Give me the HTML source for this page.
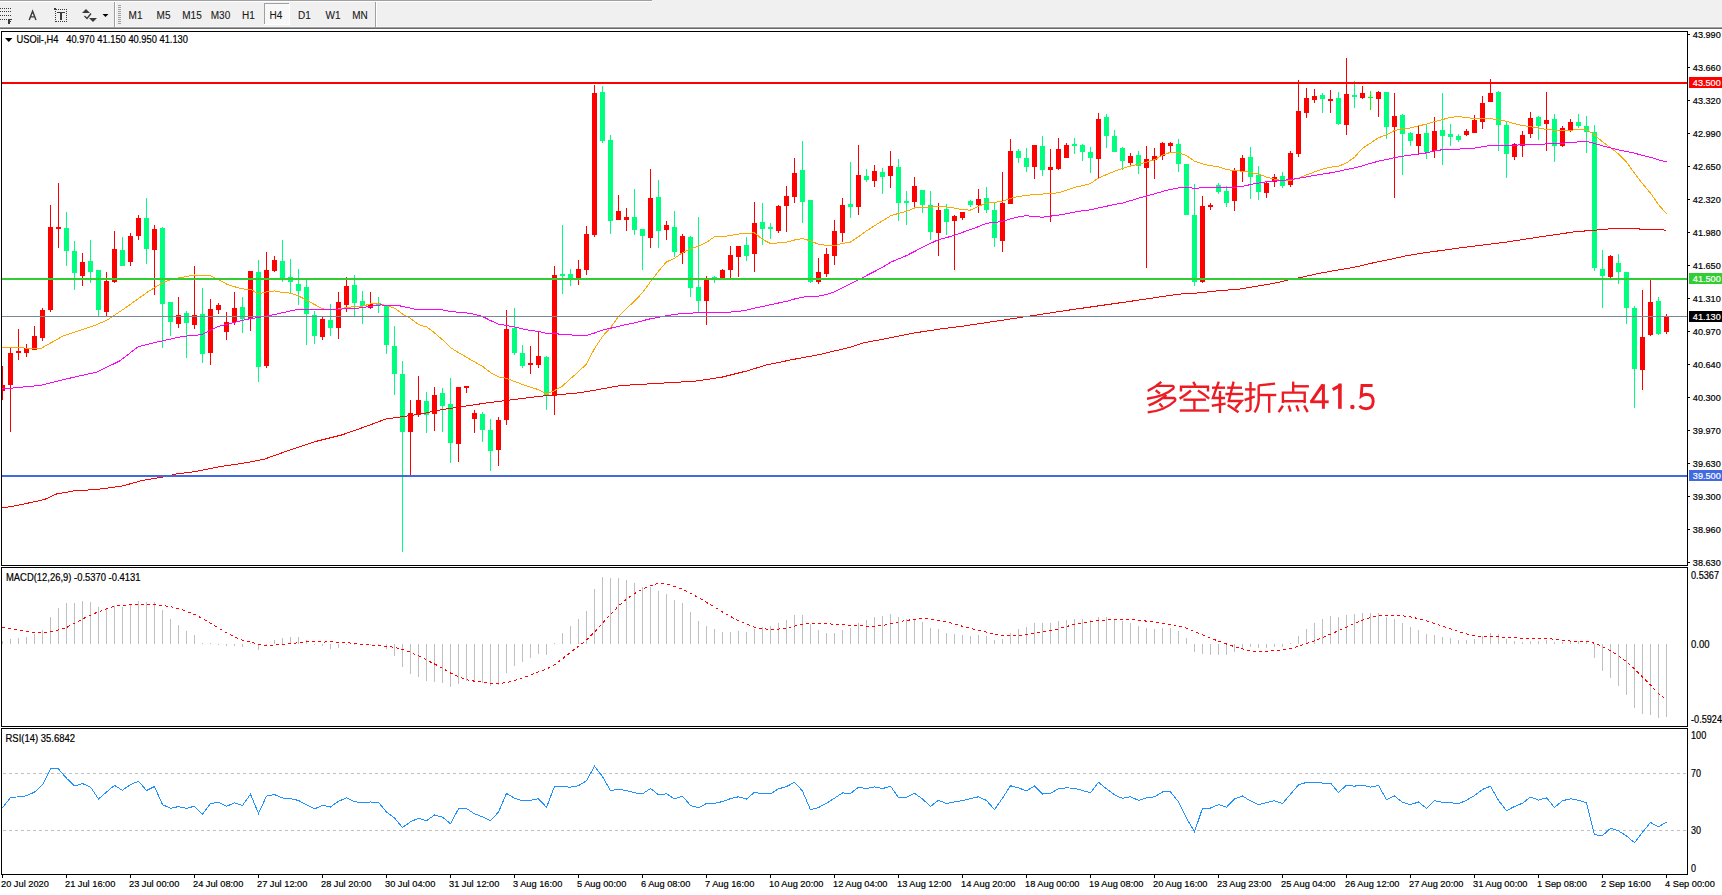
<!DOCTYPE html>
<html><head><meta charset="utf-8"><style>
html,body{margin:0;padding:0;background:#fff;}
body{width:1722px;height:895px;overflow:hidden;position:relative;font-family:"Liberation Sans",sans-serif;}
svg{position:absolute;left:0;top:0;display:block;}
text{font-family:"Liberation Sans",sans-serif;}
</style></head><body>
<svg width="1722" height="895" viewBox="0 0 1722 895" shape-rendering="crispEdges">
<rect x="0" y="0" width="1722" height="27" fill="#F0F0F0"/>
<rect x="0" y="0" width="652" height="1" fill="#a0a0a0"/>
<rect x="0" y="1" width="652" height="1" fill="#ffffff"/>
<rect x="0" y="26" width="1722" height="1" fill="#f6f6f6"/>
<rect x="0" y="27" width="1722" height="1" fill="#a0a0a0"/>
<rect x="0" y="28" width="1722" height="1" fill="#696969"/>
<rect x="0" y="29" width="1722" height="2" fill="#ffffff"/>
<rect x="0" y="8" width="1" height="1" fill="#3a3a3a"/>
<rect x="2" y="8" width="1" height="1" fill="#3a3a3a"/>
<rect x="4" y="8" width="1" height="1" fill="#3a3a3a"/>
<rect x="6" y="8" width="1" height="1" fill="#3a3a3a"/>
<rect x="8" y="8" width="1" height="1" fill="#3a3a3a"/>
<rect x="10" y="8" width="1" height="1" fill="#3a3a3a"/>
<rect x="0" y="11" width="1" height="1" fill="#3a3a3a"/>
<rect x="2" y="11" width="1" height="1" fill="#3a3a3a"/>
<rect x="4" y="11" width="1" height="1" fill="#3a3a3a"/>
<rect x="6" y="11" width="1" height="1" fill="#3a3a3a"/>
<rect x="8" y="11" width="1" height="1" fill="#3a3a3a"/>
<rect x="10" y="11" width="1" height="1" fill="#3a3a3a"/>
<rect x="0" y="15" width="1" height="1" fill="#3a3a3a"/>
<rect x="2" y="15" width="1" height="1" fill="#3a3a3a"/>
<rect x="4" y="15" width="1" height="1" fill="#3a3a3a"/>
<rect x="6" y="15" width="1" height="1" fill="#3a3a3a"/>
<rect x="8" y="15" width="1" height="1" fill="#3a3a3a"/>
<rect x="10" y="15" width="1" height="1" fill="#3a3a3a"/>
<rect x="0" y="19" width="1" height="1" fill="#3a3a3a"/>
<rect x="2" y="19" width="1" height="1" fill="#3a3a3a"/>
<rect x="4" y="19" width="1" height="1" fill="#3a3a3a"/>
<rect x="6" y="19" width="1" height="1" fill="#3a3a3a"/>
<rect x="8" y="19" width="2" height="5" fill="#3a3a3a"/>
<rect x="8" y="19" width="4" height="1" fill="#3a3a3a"/>
<rect x="8" y="21" width="3" height="1" fill="#3a3a3a"/>
<path d="M29.2 20 L32.6 11.2 L36 20 M30.6 16.9 L34.6 16.9" stroke="#3a3a3a" stroke-width="1.4" fill="none" shape-rendering="auto"/>
<rect x="56" y="9" width="1" height="1" fill="#3a3a3a"/>
<rect x="56" y="21" width="1" height="1" fill="#3a3a3a"/>
<rect x="58" y="9" width="1" height="1" fill="#3a3a3a"/>
<rect x="58" y="21" width="1" height="1" fill="#3a3a3a"/>
<rect x="60" y="9" width="1" height="1" fill="#3a3a3a"/>
<rect x="60" y="21" width="1" height="1" fill="#3a3a3a"/>
<rect x="62" y="9" width="1" height="1" fill="#3a3a3a"/>
<rect x="62" y="21" width="1" height="1" fill="#3a3a3a"/>
<rect x="64" y="9" width="1" height="1" fill="#3a3a3a"/>
<rect x="64" y="21" width="1" height="1" fill="#3a3a3a"/>
<rect x="66" y="9" width="1" height="1" fill="#3a3a3a"/>
<rect x="66" y="21" width="1" height="1" fill="#3a3a3a"/>
<rect x="55" y="11" width="1" height="1" fill="#3a3a3a"/>
<rect x="66" y="11" width="1" height="1" fill="#3a3a3a"/>
<rect x="55" y="13" width="1" height="1" fill="#3a3a3a"/>
<rect x="66" y="13" width="1" height="1" fill="#3a3a3a"/>
<rect x="55" y="15" width="1" height="1" fill="#3a3a3a"/>
<rect x="66" y="15" width="1" height="1" fill="#3a3a3a"/>
<rect x="55" y="17" width="1" height="1" fill="#3a3a3a"/>
<rect x="66" y="17" width="1" height="1" fill="#3a3a3a"/>
<rect x="55" y="19" width="1" height="1" fill="#3a3a3a"/>
<rect x="66" y="19" width="1" height="1" fill="#3a3a3a"/>
<rect x="55" y="21" width="1" height="1" fill="#3a3a3a"/>
<rect x="66" y="21" width="1" height="1" fill="#3a3a3a"/>
<rect x="54" y="8" width="2" height="2" fill="#3a3a3a"/>
<rect x="57" y="12" width="8" height="1" fill="#3a3a3a"/>
<rect x="60" y="12" width="2" height="8" fill="#3a3a3a"/>
<path d="M82 13 L86 9 L90 13 Z" fill="#3a3a3a" shape-rendering="auto"/>
<path d="M84.5 16 L87 18.5 L91 13.5" stroke="#3a3a3a" stroke-width="1.3" fill="none" shape-rendering="auto"/>
<path d="M89 18 L93 22 L97 18 Z" fill="#3a3a3a" shape-rendering="auto"/>
<path d="M102.5 14 L108.5 14 L105.5 17 Z" fill="#000" shape-rendering="auto"/>
<rect x="114" y="2" width="1" height="25" fill="#a0a0a0"/>
<rect x="115" y="2" width="1" height="25" fill="#ffffff"/>
<rect x="118" y="5" width="3" height="1" fill="#a0a0a0"/>
<rect x="118" y="7" width="3" height="1" fill="#a0a0a0"/>
<rect x="118" y="9" width="3" height="1" fill="#a0a0a0"/>
<rect x="118" y="11" width="3" height="1" fill="#a0a0a0"/>
<rect x="118" y="13" width="3" height="1" fill="#a0a0a0"/>
<rect x="118" y="15" width="3" height="1" fill="#a0a0a0"/>
<rect x="118" y="17" width="3" height="1" fill="#a0a0a0"/>
<rect x="118" y="19" width="3" height="1" fill="#a0a0a0"/>
<rect x="118" y="21" width="3" height="1" fill="#a0a0a0"/>
<rect x="118" y="23" width="3" height="1" fill="#a0a0a0"/>
<rect x="264" y="3" width="26" height="22" fill="#f8f8f8"/>
<rect x="264" y="3" width="25" height="1" fill="#a0a0a0"/>
<rect x="264" y="3" width="1" height="22" fill="#a0a0a0"/>
<rect x="264" y="24" width="26" height="1" fill="#ffffff"/>
<rect x="289" y="3" width="1" height="22" fill="#ffffff"/>
<text x="135.5" y="19" font-size="10" fill="#1a1a1a" text-anchor="middle" font-weight="normal" font-family="Liberation Sans" stroke="#1a1a1a" stroke-width="0.1">M1</text>
<text x="163.5" y="19" font-size="10" fill="#1a1a1a" text-anchor="middle" font-weight="normal" font-family="Liberation Sans" stroke="#1a1a1a" stroke-width="0.1">M5</text>
<text x="192" y="19" font-size="10" fill="#1a1a1a" text-anchor="middle" font-weight="normal" font-family="Liberation Sans" stroke="#1a1a1a" stroke-width="0.1">M15</text>
<text x="220.5" y="19" font-size="10" fill="#1a1a1a" text-anchor="middle" font-weight="normal" font-family="Liberation Sans" stroke="#1a1a1a" stroke-width="0.1">M30</text>
<text x="248.5" y="19" font-size="10" fill="#1a1a1a" text-anchor="middle" font-weight="normal" font-family="Liberation Sans" stroke="#1a1a1a" stroke-width="0.1">H1</text>
<text x="276" y="19" font-size="10" fill="#1a1a1a" text-anchor="middle" font-weight="normal" font-family="Liberation Sans" stroke="#1a1a1a" stroke-width="0.1">H4</text>
<text x="304.5" y="19" font-size="10" fill="#1a1a1a" text-anchor="middle" font-weight="normal" font-family="Liberation Sans" stroke="#1a1a1a" stroke-width="0.1">D1</text>
<text x="333" y="19" font-size="10" fill="#1a1a1a" text-anchor="middle" font-weight="normal" font-family="Liberation Sans" stroke="#1a1a1a" stroke-width="0.1">W1</text>
<text x="360" y="19" font-size="10" fill="#1a1a1a" text-anchor="middle" font-weight="normal" font-family="Liberation Sans" stroke="#1a1a1a" stroke-width="0.1">MN</text>
<rect x="375" y="2" width="1" height="25" fill="#a0a0a0"/>
<rect x="376" y="2" width="1" height="25" fill="#ffffff"/>
<rect x="1" y="31" width="1687" height="1" fill="#000"/>
<rect x="1" y="565" width="1687" height="1" fill="#000"/>
<rect x="1" y="31" width="1" height="535" fill="#000"/>
<rect x="1687" y="31" width="1" height="535" fill="#000"/>
<rect x="1" y="567" width="1687" height="1" fill="#000"/>
<rect x="1" y="726" width="1687" height="1" fill="#000"/>
<rect x="1" y="567" width="1" height="160" fill="#000"/>
<rect x="1687" y="567" width="1" height="160" fill="#000"/>
<rect x="1" y="728" width="1687" height="1" fill="#000"/>
<rect x="1" y="874" width="1687" height="1" fill="#000"/>
<rect x="1" y="728" width="1" height="147" fill="#000"/>
<rect x="1687" y="728" width="1" height="147" fill="#000"/>
<g>
<clipPath id="cm"><rect x="2" y="32" width="1685" height="533"/></clipPath>
<g clip-path="url(#cm)">
<rect x="2" y="366" width="1" height="34" fill="#FF0000"/>
<rect x="0" y="385" width="5" height="6" fill="#FF0000"/>
<rect x="10" y="348" width="1" height="84" fill="#FF0000"/>
<rect x="8" y="353" width="5" height="32" fill="#FF0000"/>
<rect x="18" y="329" width="1" height="31" fill="#FF0000"/>
<rect x="16" y="351" width="5" height="2" fill="#FF0000"/>
<rect x="26" y="344" width="1" height="13" fill="#FF0000"/>
<rect x="24" y="348" width="5" height="5" fill="#FF0000"/>
<rect x="34" y="326" width="1" height="24" fill="#FF0000"/>
<rect x="32" y="336" width="5" height="14" fill="#FF0000"/>
<rect x="42" y="308" width="1" height="33" fill="#FF0000"/>
<rect x="40" y="310" width="5" height="28" fill="#FF0000"/>
<rect x="50" y="205" width="1" height="107" fill="#FF0000"/>
<rect x="48" y="227" width="5" height="83" fill="#FF0000"/>
<rect x="58" y="183" width="1" height="65" fill="#FF0000"/>
<rect x="56" y="227" width="5" height="2" fill="#FF0000"/>
<rect x="66" y="212" width="1" height="54" fill="#00FF7F"/>
<rect x="64" y="228" width="5" height="23" fill="#00FF7F"/>
<rect x="74" y="241" width="1" height="49" fill="#00FF7F"/>
<rect x="72" y="251" width="5" height="22" fill="#00FF7F"/>
<rect x="82" y="253" width="1" height="33" fill="#FF0000"/>
<rect x="80" y="262" width="5" height="14" fill="#FF0000"/>
<rect x="90" y="240" width="1" height="43" fill="#00FF7F"/>
<rect x="88" y="261" width="5" height="11" fill="#00FF7F"/>
<rect x="98" y="270" width="1" height="47" fill="#00FF7F"/>
<rect x="96" y="270" width="5" height="40" fill="#00FF7F"/>
<rect x="106" y="272" width="1" height="45" fill="#FF0000"/>
<rect x="104" y="281" width="5" height="31" fill="#FF0000"/>
<rect x="114" y="231" width="1" height="52" fill="#FF0000"/>
<rect x="112" y="249" width="5" height="33" fill="#FF0000"/>
<rect x="122" y="237" width="1" height="29" fill="#00FF7F"/>
<rect x="120" y="250" width="5" height="16" fill="#00FF7F"/>
<rect x="130" y="233" width="1" height="33" fill="#FF0000"/>
<rect x="128" y="236" width="5" height="26" fill="#FF0000"/>
<rect x="138" y="215" width="1" height="25" fill="#FF0000"/>
<rect x="136" y="218" width="5" height="18" fill="#FF0000"/>
<rect x="146" y="198" width="1" height="66" fill="#00FF7F"/>
<rect x="144" y="218" width="5" height="31" fill="#00FF7F"/>
<rect x="154" y="225" width="1" height="70" fill="#FF0000"/>
<rect x="152" y="229" width="5" height="21" fill="#FF0000"/>
<rect x="162" y="227" width="1" height="121" fill="#00FF7F"/>
<rect x="160" y="228" width="5" height="76" fill="#00FF7F"/>
<rect x="170" y="302" width="1" height="34" fill="#00FF7F"/>
<rect x="168" y="302" width="5" height="20" fill="#00FF7F"/>
<rect x="178" y="297" width="1" height="31" fill="#FF0000"/>
<rect x="176" y="315" width="5" height="9" fill="#FF0000"/>
<rect x="186" y="311" width="1" height="47" fill="#00FF7F"/>
<rect x="184" y="313" width="5" height="10" fill="#00FF7F"/>
<rect x="194" y="266" width="1" height="63" fill="#FF0000"/>
<rect x="192" y="315" width="5" height="10" fill="#FF0000"/>
<rect x="202" y="288" width="1" height="75" fill="#00FF7F"/>
<rect x="200" y="314" width="5" height="40" fill="#00FF7F"/>
<rect x="210" y="299" width="1" height="66" fill="#FF0000"/>
<rect x="208" y="309" width="5" height="44" fill="#FF0000"/>
<rect x="218" y="303" width="1" height="11" fill="#FF0000"/>
<rect x="216" y="305" width="5" height="5" fill="#FF0000"/>
<rect x="226" y="312" width="1" height="28" fill="#FF0000"/>
<rect x="224" y="322" width="5" height="10" fill="#FF0000"/>
<rect x="234" y="292" width="1" height="33" fill="#FF0000"/>
<rect x="232" y="308" width="5" height="14" fill="#FF0000"/>
<rect x="242" y="297" width="1" height="36" fill="#00FF7F"/>
<rect x="240" y="307" width="5" height="12" fill="#00FF7F"/>
<rect x="250" y="271" width="1" height="60" fill="#FF0000"/>
<rect x="248" y="271" width="5" height="48" fill="#FF0000"/>
<rect x="258" y="260" width="1" height="122" fill="#00FF7F"/>
<rect x="256" y="272" width="5" height="95" fill="#00FF7F"/>
<rect x="266" y="252" width="1" height="116" fill="#FF0000"/>
<rect x="264" y="270" width="5" height="96" fill="#FF0000"/>
<rect x="274" y="256" width="1" height="16" fill="#FF0000"/>
<rect x="272" y="260" width="5" height="11" fill="#FF0000"/>
<rect x="282" y="240" width="1" height="42" fill="#00FF7F"/>
<rect x="280" y="261" width="5" height="17" fill="#00FF7F"/>
<rect x="290" y="259" width="1" height="34" fill="#00FF7F"/>
<rect x="288" y="277" width="5" height="5" fill="#00FF7F"/>
<rect x="298" y="269" width="1" height="36" fill="#00FF7F"/>
<rect x="296" y="284" width="5" height="7" fill="#00FF7F"/>
<rect x="306" y="280" width="1" height="65" fill="#00FF7F"/>
<rect x="304" y="287" width="5" height="27" fill="#00FF7F"/>
<rect x="314" y="311" width="1" height="33" fill="#00FF7F"/>
<rect x="312" y="315" width="5" height="21" fill="#00FF7F"/>
<rect x="322" y="317" width="1" height="23" fill="#FF0000"/>
<rect x="320" y="319" width="5" height="18" fill="#FF0000"/>
<rect x="330" y="304" width="1" height="32" fill="#00FF7F"/>
<rect x="328" y="320" width="5" height="8" fill="#00FF7F"/>
<rect x="338" y="292" width="1" height="47" fill="#FF0000"/>
<rect x="336" y="302" width="5" height="26" fill="#FF0000"/>
<rect x="346" y="277" width="1" height="35" fill="#FF0000"/>
<rect x="344" y="286" width="5" height="19" fill="#FF0000"/>
<rect x="354" y="275" width="1" height="41" fill="#00FF7F"/>
<rect x="352" y="285" width="5" height="18" fill="#00FF7F"/>
<rect x="362" y="291" width="1" height="33" fill="#00FF7F"/>
<rect x="360" y="301" width="5" height="5" fill="#00FF7F"/>
<rect x="370" y="292" width="1" height="17" fill="#FF0000"/>
<rect x="368" y="304" width="5" height="4" fill="#FF0000"/>
<rect x="378" y="297" width="1" height="16" fill="#00FF7F"/>
<rect x="376" y="303" width="5" height="3" fill="#00FF7F"/>
<rect x="386" y="305" width="1" height="49" fill="#00FF7F"/>
<rect x="384" y="306" width="5" height="39" fill="#00FF7F"/>
<rect x="394" y="326" width="1" height="69" fill="#00FF7F"/>
<rect x="392" y="346" width="5" height="28" fill="#00FF7F"/>
<rect x="402" y="361" width="1" height="191" fill="#00FF7F"/>
<rect x="400" y="374" width="5" height="58" fill="#00FF7F"/>
<rect x="410" y="400" width="1" height="75" fill="#FF0000"/>
<rect x="408" y="413" width="5" height="19" fill="#FF0000"/>
<rect x="418" y="376" width="1" height="41" fill="#FF0000"/>
<rect x="416" y="400" width="5" height="15" fill="#FF0000"/>
<rect x="426" y="392" width="1" height="41" fill="#00FF7F"/>
<rect x="424" y="401" width="5" height="14" fill="#00FF7F"/>
<rect x="434" y="387" width="1" height="44" fill="#FF0000"/>
<rect x="432" y="395" width="5" height="19" fill="#FF0000"/>
<rect x="442" y="388" width="1" height="44" fill="#00FF7F"/>
<rect x="440" y="393" width="5" height="13" fill="#00FF7F"/>
<rect x="450" y="378" width="1" height="85" fill="#00FF7F"/>
<rect x="448" y="404" width="5" height="39" fill="#00FF7F"/>
<rect x="458" y="387" width="1" height="75" fill="#FF0000"/>
<rect x="456" y="387" width="5" height="57" fill="#FF0000"/>
<rect x="466" y="386" width="1" height="7" fill="#FF0000"/>
<rect x="464" y="386" width="5" height="2" fill="#FF0000"/>
<rect x="474" y="410" width="1" height="23" fill="#FF0000"/>
<rect x="472" y="413" width="5" height="6" fill="#FF0000"/>
<rect x="482" y="412" width="1" height="30" fill="#00FF7F"/>
<rect x="480" y="414" width="5" height="16" fill="#00FF7F"/>
<rect x="490" y="419" width="1" height="52" fill="#00FF7F"/>
<rect x="488" y="430" width="5" height="21" fill="#00FF7F"/>
<rect x="498" y="417" width="1" height="49" fill="#FF0000"/>
<rect x="496" y="420" width="5" height="30" fill="#FF0000"/>
<rect x="506" y="310" width="1" height="115" fill="#FF0000"/>
<rect x="504" y="329" width="5" height="91" fill="#FF0000"/>
<rect x="514" y="308" width="1" height="47" fill="#00FF7F"/>
<rect x="512" y="328" width="5" height="25" fill="#00FF7F"/>
<rect x="522" y="345" width="1" height="23" fill="#00FF7F"/>
<rect x="520" y="353" width="5" height="13" fill="#00FF7F"/>
<rect x="530" y="346" width="1" height="28" fill="#FF0000"/>
<rect x="528" y="363" width="5" height="2" fill="#FF0000"/>
<rect x="538" y="331" width="1" height="37" fill="#FF0000"/>
<rect x="536" y="356" width="5" height="9" fill="#FF0000"/>
<rect x="546" y="356" width="1" height="54" fill="#00FF7F"/>
<rect x="544" y="357" width="5" height="39" fill="#00FF7F"/>
<rect x="554" y="266" width="1" height="149" fill="#FF0000"/>
<rect x="552" y="275" width="5" height="121" fill="#FF0000"/>
<rect x="562" y="225" width="1" height="69" fill="#00FF7F"/>
<rect x="560" y="274" width="5" height="2" fill="#00FF7F"/>
<rect x="570" y="269" width="1" height="17" fill="#00FF7F"/>
<rect x="568" y="274" width="5" height="4" fill="#00FF7F"/>
<rect x="578" y="260" width="1" height="25" fill="#FF0000"/>
<rect x="576" y="269" width="5" height="9" fill="#FF0000"/>
<rect x="586" y="226" width="1" height="49" fill="#FF0000"/>
<rect x="584" y="234" width="5" height="36" fill="#FF0000"/>
<rect x="594" y="85" width="1" height="152" fill="#FF0000"/>
<rect x="592" y="93" width="5" height="142" fill="#FF0000"/>
<rect x="602" y="86" width="1" height="57" fill="#00FF7F"/>
<rect x="600" y="92" width="5" height="49" fill="#00FF7F"/>
<rect x="610" y="135" width="1" height="99" fill="#00FF7F"/>
<rect x="608" y="140" width="5" height="81" fill="#00FF7F"/>
<rect x="618" y="195" width="1" height="25" fill="#FF0000"/>
<rect x="616" y="211" width="5" height="9" fill="#FF0000"/>
<rect x="626" y="208" width="1" height="23" fill="#FF0000"/>
<rect x="624" y="217" width="5" height="3" fill="#FF0000"/>
<rect x="634" y="189" width="1" height="46" fill="#00FF7F"/>
<rect x="632" y="217" width="5" height="13" fill="#00FF7F"/>
<rect x="642" y="229" width="1" height="41" fill="#00FF7F"/>
<rect x="640" y="229" width="5" height="7" fill="#00FF7F"/>
<rect x="650" y="169" width="1" height="79" fill="#FF0000"/>
<rect x="648" y="198" width="5" height="40" fill="#FF0000"/>
<rect x="658" y="180" width="1" height="68" fill="#00FF7F"/>
<rect x="656" y="197" width="5" height="34" fill="#00FF7F"/>
<rect x="666" y="221" width="1" height="19" fill="#FF0000"/>
<rect x="664" y="225" width="5" height="5" fill="#FF0000"/>
<rect x="674" y="211" width="1" height="46" fill="#00FF7F"/>
<rect x="672" y="227" width="5" height="25" fill="#00FF7F"/>
<rect x="682" y="234" width="1" height="30" fill="#FF0000"/>
<rect x="680" y="236" width="5" height="17" fill="#FF0000"/>
<rect x="690" y="236" width="1" height="61" fill="#00FF7F"/>
<rect x="688" y="237" width="5" height="51" fill="#00FF7F"/>
<rect x="698" y="217" width="1" height="95" fill="#00FF7F"/>
<rect x="696" y="287" width="5" height="14" fill="#00FF7F"/>
<rect x="706" y="276" width="1" height="49" fill="#FF0000"/>
<rect x="704" y="280" width="5" height="21" fill="#FF0000"/>
<rect x="714" y="276" width="1" height="7" fill="#00FF7F"/>
<rect x="712" y="277" width="5" height="2" fill="#00FF7F"/>
<rect x="722" y="269" width="1" height="9" fill="#FF0000"/>
<rect x="720" y="270" width="5" height="8" fill="#FF0000"/>
<rect x="730" y="246" width="1" height="32" fill="#FF0000"/>
<rect x="728" y="255" width="5" height="15" fill="#FF0000"/>
<rect x="738" y="246" width="1" height="31" fill="#FF0000"/>
<rect x="736" y="246" width="5" height="11" fill="#FF0000"/>
<rect x="746" y="237" width="1" height="24" fill="#00FF7F"/>
<rect x="744" y="245" width="5" height="11" fill="#00FF7F"/>
<rect x="754" y="202" width="1" height="70" fill="#FF0000"/>
<rect x="752" y="223" width="5" height="31" fill="#FF0000"/>
<rect x="762" y="203" width="1" height="42" fill="#00FF7F"/>
<rect x="760" y="222" width="5" height="7" fill="#00FF7F"/>
<rect x="770" y="223" width="1" height="16" fill="#00FF7F"/>
<rect x="768" y="227" width="5" height="2" fill="#00FF7F"/>
<rect x="778" y="205" width="1" height="28" fill="#FF0000"/>
<rect x="776" y="206" width="5" height="25" fill="#FF0000"/>
<rect x="786" y="186" width="1" height="46" fill="#FF0000"/>
<rect x="784" y="196" width="5" height="10" fill="#FF0000"/>
<rect x="794" y="158" width="1" height="45" fill="#FF0000"/>
<rect x="792" y="173" width="5" height="24" fill="#FF0000"/>
<rect x="802" y="141" width="1" height="82" fill="#00FF7F"/>
<rect x="800" y="170" width="5" height="32" fill="#00FF7F"/>
<rect x="810" y="200" width="1" height="83" fill="#00FF7F"/>
<rect x="808" y="200" width="5" height="82" fill="#00FF7F"/>
<rect x="818" y="258" width="1" height="26" fill="#FF0000"/>
<rect x="816" y="272" width="5" height="10" fill="#FF0000"/>
<rect x="826" y="248" width="1" height="29" fill="#FF0000"/>
<rect x="824" y="254" width="5" height="20" fill="#FF0000"/>
<rect x="834" y="220" width="1" height="45" fill="#FF0000"/>
<rect x="832" y="231" width="5" height="25" fill="#FF0000"/>
<rect x="842" y="198" width="1" height="44" fill="#FF0000"/>
<rect x="840" y="205" width="5" height="28" fill="#FF0000"/>
<rect x="850" y="162" width="1" height="56" fill="#00FF7F"/>
<rect x="848" y="204" width="5" height="3" fill="#00FF7F"/>
<rect x="858" y="145" width="1" height="70" fill="#FF0000"/>
<rect x="856" y="175" width="5" height="32" fill="#FF0000"/>
<rect x="866" y="169" width="1" height="13" fill="#00FF7F"/>
<rect x="864" y="176" width="5" height="4" fill="#00FF7F"/>
<rect x="874" y="165" width="1" height="22" fill="#FF0000"/>
<rect x="872" y="171" width="5" height="10" fill="#FF0000"/>
<rect x="882" y="168" width="1" height="26" fill="#00FF7F"/>
<rect x="880" y="172" width="5" height="5" fill="#00FF7F"/>
<rect x="890" y="151" width="1" height="37" fill="#FF0000"/>
<rect x="888" y="166" width="5" height="10" fill="#FF0000"/>
<rect x="898" y="159" width="1" height="62" fill="#00FF7F"/>
<rect x="896" y="167" width="5" height="36" fill="#00FF7F"/>
<rect x="906" y="191" width="1" height="34" fill="#00FF7F"/>
<rect x="904" y="201" width="5" height="2" fill="#00FF7F"/>
<rect x="914" y="177" width="1" height="32" fill="#FF0000"/>
<rect x="912" y="186" width="5" height="16" fill="#FF0000"/>
<rect x="922" y="190" width="1" height="23" fill="#00FF7F"/>
<rect x="920" y="190" width="5" height="15" fill="#00FF7F"/>
<rect x="930" y="191" width="1" height="49" fill="#00FF7F"/>
<rect x="928" y="205" width="5" height="27" fill="#00FF7F"/>
<rect x="938" y="203" width="1" height="53" fill="#FF0000"/>
<rect x="936" y="210" width="5" height="23" fill="#FF0000"/>
<rect x="946" y="204" width="1" height="31" fill="#00FF7F"/>
<rect x="944" y="209" width="5" height="13" fill="#00FF7F"/>
<rect x="954" y="215" width="1" height="55" fill="#FF0000"/>
<rect x="952" y="216" width="5" height="5" fill="#FF0000"/>
<rect x="962" y="212" width="1" height="8" fill="#FF0000"/>
<rect x="960" y="212" width="5" height="6" fill="#FF0000"/>
<rect x="970" y="200" width="1" height="7" fill="#00FF7F"/>
<rect x="968" y="201" width="5" height="4" fill="#00FF7F"/>
<rect x="978" y="189" width="1" height="24" fill="#FF0000"/>
<rect x="976" y="199" width="5" height="6" fill="#FF0000"/>
<rect x="986" y="187" width="1" height="26" fill="#00FF7F"/>
<rect x="984" y="198" width="5" height="12" fill="#00FF7F"/>
<rect x="994" y="203" width="1" height="44" fill="#00FF7F"/>
<rect x="992" y="210" width="5" height="28" fill="#00FF7F"/>
<rect x="1002" y="172" width="1" height="80" fill="#FF0000"/>
<rect x="1000" y="203" width="5" height="38" fill="#FF0000"/>
<rect x="1010" y="139" width="1" height="65" fill="#FF0000"/>
<rect x="1008" y="151" width="5" height="53" fill="#FF0000"/>
<rect x="1018" y="149" width="1" height="14" fill="#00FF7F"/>
<rect x="1016" y="151" width="5" height="7" fill="#00FF7F"/>
<rect x="1026" y="148" width="1" height="24" fill="#00FF7F"/>
<rect x="1024" y="158" width="5" height="9" fill="#00FF7F"/>
<rect x="1034" y="145" width="1" height="34" fill="#FF0000"/>
<rect x="1032" y="145" width="5" height="22" fill="#FF0000"/>
<rect x="1042" y="136" width="1" height="40" fill="#00FF7F"/>
<rect x="1040" y="146" width="5" height="24" fill="#00FF7F"/>
<rect x="1050" y="149" width="1" height="73" fill="#FF0000"/>
<rect x="1048" y="167" width="5" height="3" fill="#FF0000"/>
<rect x="1058" y="138" width="1" height="32" fill="#FF0000"/>
<rect x="1056" y="149" width="5" height="20" fill="#FF0000"/>
<rect x="1066" y="143" width="1" height="15" fill="#FF0000"/>
<rect x="1064" y="145" width="5" height="13" fill="#FF0000"/>
<rect x="1074" y="138" width="1" height="16" fill="#00FF7F"/>
<rect x="1072" y="144" width="5" height="2" fill="#00FF7F"/>
<rect x="1082" y="144" width="1" height="17" fill="#00FF7F"/>
<rect x="1080" y="145" width="5" height="7" fill="#00FF7F"/>
<rect x="1090" y="147" width="1" height="26" fill="#00FF7F"/>
<rect x="1088" y="152" width="5" height="6" fill="#00FF7F"/>
<rect x="1098" y="113" width="1" height="65" fill="#FF0000"/>
<rect x="1096" y="119" width="5" height="40" fill="#FF0000"/>
<rect x="1106" y="114" width="1" height="34" fill="#00FF7F"/>
<rect x="1104" y="117" width="5" height="19" fill="#00FF7F"/>
<rect x="1114" y="130" width="1" height="22" fill="#00FF7F"/>
<rect x="1112" y="136" width="5" height="16" fill="#00FF7F"/>
<rect x="1122" y="147" width="1" height="23" fill="#00FF7F"/>
<rect x="1120" y="148" width="5" height="13" fill="#00FF7F"/>
<rect x="1130" y="153" width="1" height="14" fill="#FF0000"/>
<rect x="1128" y="156" width="5" height="7" fill="#FF0000"/>
<rect x="1138" y="151" width="1" height="23" fill="#00FF7F"/>
<rect x="1136" y="155" width="5" height="11" fill="#00FF7F"/>
<rect x="1146" y="146" width="1" height="122" fill="#FF0000"/>
<rect x="1144" y="159" width="5" height="9" fill="#FF0000"/>
<rect x="1154" y="148" width="1" height="31" fill="#FF0000"/>
<rect x="1152" y="156" width="5" height="4" fill="#FF0000"/>
<rect x="1162" y="142" width="1" height="18" fill="#FF0000"/>
<rect x="1160" y="143" width="5" height="13" fill="#FF0000"/>
<rect x="1170" y="142" width="1" height="10" fill="#FF0000"/>
<rect x="1168" y="143" width="5" height="3" fill="#FF0000"/>
<rect x="1178" y="139" width="1" height="33" fill="#00FF7F"/>
<rect x="1176" y="144" width="5" height="20" fill="#00FF7F"/>
<rect x="1186" y="164" width="1" height="51" fill="#00FF7F"/>
<rect x="1184" y="164" width="5" height="51" fill="#00FF7F"/>
<rect x="1194" y="184" width="1" height="102" fill="#00FF7F"/>
<rect x="1192" y="215" width="5" height="67" fill="#00FF7F"/>
<rect x="1202" y="196" width="1" height="87" fill="#FF0000"/>
<rect x="1200" y="206" width="5" height="76" fill="#FF0000"/>
<rect x="1210" y="203" width="1" height="7" fill="#FF0000"/>
<rect x="1208" y="205" width="5" height="2" fill="#FF0000"/>
<rect x="1218" y="183" width="1" height="11" fill="#00FF7F"/>
<rect x="1216" y="185" width="5" height="7" fill="#00FF7F"/>
<rect x="1226" y="186" width="1" height="21" fill="#00FF7F"/>
<rect x="1224" y="191" width="5" height="12" fill="#00FF7F"/>
<rect x="1234" y="168" width="1" height="43" fill="#FF0000"/>
<rect x="1232" y="171" width="5" height="30" fill="#FF0000"/>
<rect x="1242" y="155" width="1" height="27" fill="#FF0000"/>
<rect x="1240" y="158" width="5" height="14" fill="#FF0000"/>
<rect x="1250" y="147" width="1" height="52" fill="#00FF7F"/>
<rect x="1248" y="157" width="5" height="20" fill="#00FF7F"/>
<rect x="1258" y="166" width="1" height="34" fill="#00FF7F"/>
<rect x="1256" y="175" width="5" height="17" fill="#00FF7F"/>
<rect x="1266" y="181" width="1" height="17" fill="#FF0000"/>
<rect x="1264" y="183" width="5" height="10" fill="#FF0000"/>
<rect x="1274" y="174" width="1" height="13" fill="#FF0000"/>
<rect x="1272" y="177" width="5" height="5" fill="#FF0000"/>
<rect x="1282" y="172" width="1" height="16" fill="#00FF7F"/>
<rect x="1280" y="176" width="5" height="10" fill="#00FF7F"/>
<rect x="1290" y="151" width="1" height="36" fill="#FF0000"/>
<rect x="1288" y="153" width="5" height="32" fill="#FF0000"/>
<rect x="1298" y="80" width="1" height="77" fill="#FF0000"/>
<rect x="1296" y="111" width="5" height="43" fill="#FF0000"/>
<rect x="1306" y="88" width="1" height="30" fill="#FF0000"/>
<rect x="1304" y="98" width="5" height="15" fill="#FF0000"/>
<rect x="1314" y="89" width="1" height="14" fill="#FF0000"/>
<rect x="1312" y="96" width="5" height="4" fill="#FF0000"/>
<rect x="1322" y="93" width="1" height="20" fill="#00FF7F"/>
<rect x="1320" y="95" width="5" height="4" fill="#00FF7F"/>
<rect x="1330" y="90" width="1" height="23" fill="#FF0000"/>
<rect x="1328" y="99" width="5" height="2" fill="#FF0000"/>
<rect x="1338" y="92" width="1" height="33" fill="#00FF7F"/>
<rect x="1336" y="98" width="5" height="26" fill="#00FF7F"/>
<rect x="1346" y="58" width="1" height="77" fill="#FF0000"/>
<rect x="1344" y="94" width="5" height="31" fill="#FF0000"/>
<rect x="1354" y="81" width="1" height="27" fill="#00FF7F"/>
<rect x="1352" y="95" width="5" height="2" fill="#00FF7F"/>
<rect x="1362" y="86" width="1" height="13" fill="#FF0000"/>
<rect x="1360" y="93" width="5" height="5" fill="#FF0000"/>
<rect x="1370" y="91" width="1" height="19" fill="#00FF00"/>
<rect x="1368" y="97" width="5" height="1" fill="#00FF00"/>
<rect x="1378" y="91" width="1" height="26" fill="#FF0000"/>
<rect x="1376" y="92" width="5" height="7" fill="#FF0000"/>
<rect x="1386" y="92" width="1" height="47" fill="#00FF7F"/>
<rect x="1384" y="92" width="5" height="35" fill="#00FF7F"/>
<rect x="1394" y="93" width="1" height="105" fill="#FF0000"/>
<rect x="1392" y="116" width="5" height="11" fill="#FF0000"/>
<rect x="1402" y="114" width="1" height="61" fill="#00FF7F"/>
<rect x="1400" y="115" width="5" height="19" fill="#00FF7F"/>
<rect x="1410" y="132" width="1" height="14" fill="#00FF7F"/>
<rect x="1408" y="133" width="5" height="8" fill="#00FF7F"/>
<rect x="1418" y="126" width="1" height="29" fill="#FF0000"/>
<rect x="1416" y="134" width="5" height="12" fill="#FF0000"/>
<rect x="1426" y="124" width="1" height="35" fill="#00FF7F"/>
<rect x="1424" y="133" width="5" height="19" fill="#00FF7F"/>
<rect x="1434" y="117" width="1" height="41" fill="#FF0000"/>
<rect x="1432" y="131" width="5" height="20" fill="#FF0000"/>
<rect x="1442" y="93" width="1" height="72" fill="#00FF7F"/>
<rect x="1440" y="130" width="5" height="6" fill="#00FF7F"/>
<rect x="1450" y="124" width="1" height="22" fill="#00FF7F"/>
<rect x="1448" y="134" width="5" height="3" fill="#00FF7F"/>
<rect x="1458" y="134" width="1" height="8" fill="#00FF7F"/>
<rect x="1456" y="136" width="5" height="4" fill="#00FF7F"/>
<rect x="1466" y="129" width="1" height="7" fill="#FF0000"/>
<rect x="1464" y="131" width="5" height="4" fill="#FF0000"/>
<rect x="1474" y="115" width="1" height="18" fill="#FF0000"/>
<rect x="1472" y="120" width="5" height="13" fill="#FF0000"/>
<rect x="1482" y="96" width="1" height="33" fill="#FF0000"/>
<rect x="1480" y="103" width="5" height="19" fill="#FF0000"/>
<rect x="1490" y="79" width="1" height="23" fill="#FF0000"/>
<rect x="1488" y="93" width="5" height="9" fill="#FF0000"/>
<rect x="1498" y="91" width="1" height="60" fill="#00FF7F"/>
<rect x="1496" y="92" width="5" height="33" fill="#00FF7F"/>
<rect x="1506" y="122" width="1" height="56" fill="#00FF7F"/>
<rect x="1504" y="125" width="5" height="29" fill="#00FF7F"/>
<rect x="1514" y="143" width="1" height="17" fill="#FF0000"/>
<rect x="1512" y="144" width="5" height="13" fill="#FF0000"/>
<rect x="1522" y="131" width="1" height="26" fill="#FF0000"/>
<rect x="1520" y="135" width="5" height="11" fill="#FF0000"/>
<rect x="1530" y="112" width="1" height="26" fill="#FF0000"/>
<rect x="1528" y="118" width="5" height="16" fill="#FF0000"/>
<rect x="1538" y="116" width="1" height="24" fill="#00FF7F"/>
<rect x="1536" y="117" width="5" height="9" fill="#00FF7F"/>
<rect x="1546" y="92" width="1" height="59" fill="#FF0000"/>
<rect x="1544" y="120" width="5" height="4" fill="#FF0000"/>
<rect x="1554" y="114" width="1" height="48" fill="#00FF7F"/>
<rect x="1552" y="119" width="5" height="27" fill="#00FF7F"/>
<rect x="1562" y="126" width="1" height="21" fill="#FF0000"/>
<rect x="1560" y="128" width="5" height="18" fill="#FF0000"/>
<rect x="1570" y="119" width="1" height="13" fill="#FF0000"/>
<rect x="1568" y="122" width="5" height="8" fill="#FF0000"/>
<rect x="1578" y="114" width="1" height="14" fill="#00FF7F"/>
<rect x="1576" y="122" width="5" height="4" fill="#00FF7F"/>
<rect x="1586" y="116" width="1" height="37" fill="#00FF7F"/>
<rect x="1584" y="126" width="5" height="6" fill="#00FF7F"/>
<rect x="1594" y="125" width="1" height="146" fill="#00FF7F"/>
<rect x="1592" y="132" width="5" height="136" fill="#00FF7F"/>
<rect x="1602" y="250" width="1" height="58" fill="#00FF7F"/>
<rect x="1600" y="269" width="5" height="7" fill="#00FF7F"/>
<rect x="1610" y="255" width="1" height="23" fill="#FF0000"/>
<rect x="1608" y="256" width="5" height="21" fill="#FF0000"/>
<rect x="1618" y="254" width="1" height="30" fill="#00FF7F"/>
<rect x="1616" y="263" width="5" height="9" fill="#00FF7F"/>
<rect x="1626" y="272" width="1" height="52" fill="#00FF7F"/>
<rect x="1624" y="272" width="5" height="36" fill="#00FF7F"/>
<rect x="1634" y="306" width="1" height="102" fill="#00FF7F"/>
<rect x="1632" y="308" width="5" height="61" fill="#00FF7F"/>
<rect x="1642" y="290" width="1" height="100" fill="#FF0000"/>
<rect x="1640" y="337" width="5" height="33" fill="#FF0000"/>
<rect x="1650" y="280" width="1" height="56" fill="#FF0000"/>
<rect x="1648" y="302" width="5" height="33" fill="#FF0000"/>
<rect x="1658" y="297" width="1" height="38" fill="#00FF7F"/>
<rect x="1656" y="301" width="5" height="33" fill="#00FF7F"/>
<rect x="1666" y="314" width="1" height="20" fill="#FF0000"/>
<rect x="1664" y="316" width="5" height="16" fill="#FF0000"/>
<polyline points="2.5,347.50 41.2,348.40 63.1,335.90 94.4,325.60 106.9,320.20 125.7,307.70 147.6,292.00 162.5,282.69 170.5,279.69 178.5,277.88 186.5,276.55 194.5,275.00 202.5,275.83 210.5,275.79 218.5,279.50 226.5,284.02 234.5,286.74 242.5,288.93 250.5,289.36 258.5,293.88 266.5,291.98 274.5,290.98 282.5,292.36 290.5,293.17 298.5,295.79 306.5,300.33 314.5,304.48 322.5,308.76 330.5,309.90 338.5,308.95 346.5,307.57 354.5,306.62 362.5,306.19 370.5,303.83 378.5,303.67 386.5,305.57 394.5,308.05 402.5,313.98 410.5,318.45 418.5,324.60 426.5,326.88 434.5,332.83 442.5,339.79 450.5,347.64 458.5,352.64 466.5,357.16 474.5,361.88 482.5,366.34 490.5,372.60 498.5,376.99 506.5,378.27 514.5,381.46 522.5,384.46 530.5,387.18 538.5,389.65 546.5,393.99 554.5,390.65 562.5,385.99 570.5,378.63 578.5,371.77 586.5,363.88 594.5,348.53 602.5,336.45 610.5,327.66 618.5,316.60 626.5,308.50 634.5,301.09 642.5,292.68 650.5,281.64 658.5,271.19 666.5,261.90 674.5,258.25 682.5,252.65 690.5,248.96 698.5,246.02 706.5,242.38 714.5,236.78 722.5,236.52 730.5,235.54 738.5,234.03 746.5,233.41 754.5,232.86 762.5,239.38 770.5,243.57 778.5,242.85 786.5,242.13 794.5,240.00 802.5,238.64 810.5,240.80 818.5,244.32 826.5,245.40 834.5,245.68 842.5,243.42 850.5,242.07 858.5,236.67 866.5,230.89 874.5,225.73 882.5,220.86 890.5,215.92 898.5,213.40 906.5,211.32 914.5,208.00 922.5,207.14 930.5,207.27 938.5,206.33 946.5,207.08 954.5,208.04 962.5,209.90 970.5,210.06 978.5,206.13 986.5,203.16 994.5,202.43 1002.5,201.10 1010.5,198.53 1018.5,196.17 1026.5,195.77 1034.5,194.11 1042.5,194.06 1050.5,193.58 1058.5,192.80 1066.5,190.05 1074.5,187.38 1082.5,185.73 1090.5,183.48 1098.5,178.10 1106.5,174.58 1114.5,171.22 1122.5,168.64 1130.5,165.99 1138.5,164.14 1146.5,162.23 1154.5,159.69 1162.5,155.13 1170.5,152.28 1178.5,152.91 1186.5,155.65 1194.5,161.12 1202.5,164.00 1210.5,165.67 1218.5,166.86 1226.5,169.42 1234.5,170.65 1242.5,171.21 1250.5,172.40 1258.5,174.04 1266.5,177.09 1274.5,179.07 1282.5,180.73 1290.5,180.31 1298.5,178.16 1306.5,174.92 1314.5,171.93 1322.5,169.21 1330.5,167.14 1338.5,166.25 1346.5,162.90 1354.5,157.28 1362.5,148.27 1370.5,143.13 1378.5,137.74 1386.5,134.67 1394.5,130.54 1402.5,128.80 1410.5,127.98 1418.5,125.95 1426.5,124.06 1434.5,121.57 1442.5,119.62 1450.5,117.25 1458.5,116.64 1466.5,117.60 1474.5,118.62 1482.5,118.93 1490.5,118.63 1498.5,119.87 1506.5,121.32 1514.5,123.69 1522.5,125.51 1530.5,126.72 1538.5,128.07 1546.5,129.40 1554.5,130.27 1562.5,130.81 1570.5,130.22 1578.5,129.50 1586.5,129.41 1594.5,134.95 1602.5,141.85 1610.5,147.55 1618.5,153.98 1626.5,161.97 1634.5,173.29 1642.5,183.62 1650.5,193.12 1658.5,204.61 1666.5,213.70" fill="none" stroke="#FFA500" stroke-width="1" />
<polyline points="2.5,389.00 41.2,385.30 63.1,379.70 97.5,371.90 119.5,361.00 138.2,346.80 157.0,342.10 182.0,336.50 201.5,334.70 218.5,326.40 246.5,319.40 271.5,315.20 296.5,309.60 330.2,309.60 358.1,308.20 380.5,304.90 400.5,306.00 415.1,309.20 434.5,309.55 442.5,309.94 450.5,311.57 458.5,312.23 466.5,312.93 474.5,314.33 482.5,316.51 490.5,320.58 498.5,324.09 506.5,325.50 514.5,326.96 522.5,328.85 530.5,330.50 538.5,331.34 546.5,333.44 554.5,333.91 562.5,334.10 570.5,334.87 578.5,335.79 586.5,335.52 594.5,333.04 602.5,330.08 610.5,328.25 618.5,326.35 626.5,324.43 634.5,322.89 642.5,320.77 650.5,318.75 658.5,317.40 666.5,315.64 674.5,314.63 682.5,313.11 690.5,313.43 698.5,312.23 706.5,312.40 714.5,312.75 722.5,312.59 730.5,312.10 738.5,311.29 746.5,310.23 754.5,308.17 762.5,306.55 770.5,304.75 778.5,303.01 786.5,301.37 794.5,299.00 802.5,297.10 810.5,296.70 818.5,296.09 826.5,294.43 834.5,291.82 842.5,287.69 850.5,283.94 858.5,279.85 866.5,275.58 874.5,271.51 882.5,267.34 890.5,262.30 898.5,258.94 906.5,255.60 914.5,251.48 922.5,247.39 930.5,243.42 938.5,239.59 946.5,237.65 954.5,235.15 962.5,232.35 970.5,229.47 978.5,226.63 986.5,223.23 994.5,222.56 1002.5,221.23 1010.5,218.92 1018.5,216.89 1026.5,215.67 1034.5,216.62 1042.5,217.14 1050.5,216.15 1058.5,215.03 1066.5,213.71 1074.5,212.19 1082.5,210.65 1090.5,209.91 1098.5,207.88 1106.5,206.25 1114.5,204.42 1122.5,203.07 1130.5,200.67 1138.5,198.21 1146.5,196.02 1154.5,193.79 1162.5,191.49 1170.5,189.44 1178.5,187.95 1186.5,187.20 1194.5,188.28 1202.5,187.84 1210.5,187.39 1218.5,187.13 1226.5,187.27 1234.5,187.23 1242.5,186.44 1250.5,184.53 1258.5,183.07 1266.5,181.79 1274.5,180.82 1282.5,180.48 1290.5,179.49 1298.5,178.33 1306.5,176.84 1314.5,175.48 1322.5,174.07 1330.5,172.86 1338.5,171.43 1346.5,169.46 1354.5,167.84 1362.5,165.80 1370.5,163.35 1378.5,161.21 1386.5,159.49 1394.5,157.68 1402.5,156.27 1410.5,155.11 1418.5,153.92 1426.5,152.87 1434.5,150.92 1442.5,149.71 1450.5,149.45 1458.5,149.13 1466.5,148.48 1474.5,148.02 1482.5,146.80 1490.5,145.46 1498.5,145.02 1506.5,145.19 1514.5,145.14 1522.5,144.85 1530.5,144.13 1538.5,144.25 1546.5,143.96 1554.5,143.85 1562.5,143.23 1570.5,142.61 1578.5,141.88 1586.5,141.39 1594.5,143.43 1602.5,145.85 1610.5,147.91 1618.5,149.85 1626.5,151.54 1634.5,153.12 1642.5,155.51 1650.5,157.28 1658.5,159.87 1666.5,161.93" fill="none" stroke="#FF00FF" stroke-width="1" />
<polyline points="2.5,508.00 20.0,504.90 44.4,499.50 56.5,494.00 73.5,491.00 98.1,489.30 122.5,486.00 142.0,480.50 163.9,476.80 176.1,474.00 195.5,471.50 220.0,466.60 244.5,463.00 263.9,459.30 293.2,448.80 317.5,441.00 342.0,434.90 366.4,426.30 385.9,419.00 420.5,414.10 439.7,410.00 488.9,402.60 538.0,396.50 580.5,392.70 620.2,385.60 668.8,382.70 695.2,381.20 721.7,377.20 748.2,370.60 765.8,365.10 792.3,359.60 818.8,354.70 849.7,347.40 862.9,343.00 889.4,338.00 915.9,332.70 942.4,328.70 960.5,326.50 1000.5,320.50 1070.2,309.90 1131.2,301.20 1178.1,294.20 1198.5,292.90 1220.5,290.50 1237.9,289.40 1255.3,286.50 1272.8,283.60 1287.9,280.10 1301.8,277.20 1319.2,273.40 1336.6,270.20 1354.1,267.30 1371.5,263.20 1388.9,259.70 1406.3,255.70 1420.5,253.40 1457.4,248.20 1504.3,242.40 1539.5,237.00 1574.7,231.80 1594.5,230.20 1610.5,228.80 1634.5,228.80 1666.5,230.10" fill="none" stroke="#FF0000" stroke-width="1" />
</g>
<rect x="2" y="82" width="1685" height="2" fill="#FF0000"/>
<rect x="2" y="278" width="1685" height="2" fill="#32CD32"/>
<rect x="2" y="316" width="1685" height="1" fill="#778899"/>
<rect x="2" y="475" width="1685" height="2" fill="#4169E1"/>
</g>
<rect x="1688" y="34" width="2" height="1" fill="#000"/>
<text x="1692.8" y="38" font-size="9.5" fill="#000" text-anchor="start" font-weight="normal" font-family="Liberation Sans" textLength="28" lengthAdjust="spacingAndGlyphs" stroke="#000" stroke-width="0.2">43.990</text>
<rect x="1688" y="67" width="2" height="1" fill="#000"/>
<text x="1692.8" y="71" font-size="9.5" fill="#000" text-anchor="start" font-weight="normal" font-family="Liberation Sans" textLength="28" lengthAdjust="spacingAndGlyphs" stroke="#000" stroke-width="0.2">43.660</text>
<rect x="1688" y="100" width="2" height="1" fill="#000"/>
<text x="1692.8" y="104" font-size="9.5" fill="#000" text-anchor="start" font-weight="normal" font-family="Liberation Sans" textLength="28" lengthAdjust="spacingAndGlyphs" stroke="#000" stroke-width="0.2">43.320</text>
<rect x="1688" y="133" width="2" height="1" fill="#000"/>
<text x="1692.8" y="137" font-size="9.5" fill="#000" text-anchor="start" font-weight="normal" font-family="Liberation Sans" textLength="28" lengthAdjust="spacingAndGlyphs" stroke="#000" stroke-width="0.2">42.990</text>
<rect x="1688" y="166" width="2" height="1" fill="#000"/>
<text x="1692.8" y="170" font-size="9.5" fill="#000" text-anchor="start" font-weight="normal" font-family="Liberation Sans" textLength="28" lengthAdjust="spacingAndGlyphs" stroke="#000" stroke-width="0.2">42.650</text>
<rect x="1688" y="199" width="2" height="1" fill="#000"/>
<text x="1692.8" y="203" font-size="9.5" fill="#000" text-anchor="start" font-weight="normal" font-family="Liberation Sans" textLength="28" lengthAdjust="spacingAndGlyphs" stroke="#000" stroke-width="0.2">42.320</text>
<rect x="1688" y="232" width="2" height="1" fill="#000"/>
<text x="1692.8" y="236" font-size="9.5" fill="#000" text-anchor="start" font-weight="normal" font-family="Liberation Sans" textLength="28" lengthAdjust="spacingAndGlyphs" stroke="#000" stroke-width="0.2">41.980</text>
<rect x="1688" y="265" width="2" height="1" fill="#000"/>
<text x="1692.8" y="269" font-size="9.5" fill="#000" text-anchor="start" font-weight="normal" font-family="Liberation Sans" textLength="28" lengthAdjust="spacingAndGlyphs" stroke="#000" stroke-width="0.2">41.650</text>
<rect x="1688" y="298" width="2" height="1" fill="#000"/>
<text x="1692.8" y="302" font-size="9.5" fill="#000" text-anchor="start" font-weight="normal" font-family="Liberation Sans" textLength="28" lengthAdjust="spacingAndGlyphs" stroke="#000" stroke-width="0.2">41.310</text>
<rect x="1688" y="331" width="2" height="1" fill="#000"/>
<text x="1692.8" y="335" font-size="9.5" fill="#000" text-anchor="start" font-weight="normal" font-family="Liberation Sans" textLength="28" lengthAdjust="spacingAndGlyphs" stroke="#000" stroke-width="0.2">40.970</text>
<rect x="1688" y="364" width="2" height="1" fill="#000"/>
<text x="1692.8" y="368" font-size="9.5" fill="#000" text-anchor="start" font-weight="normal" font-family="Liberation Sans" textLength="28" lengthAdjust="spacingAndGlyphs" stroke="#000" stroke-width="0.2">40.640</text>
<rect x="1688" y="397" width="2" height="1" fill="#000"/>
<text x="1692.8" y="401" font-size="9.5" fill="#000" text-anchor="start" font-weight="normal" font-family="Liberation Sans" textLength="28" lengthAdjust="spacingAndGlyphs" stroke="#000" stroke-width="0.2">40.300</text>
<rect x="1688" y="430" width="2" height="1" fill="#000"/>
<text x="1692.8" y="434" font-size="9.5" fill="#000" text-anchor="start" font-weight="normal" font-family="Liberation Sans" textLength="28" lengthAdjust="spacingAndGlyphs" stroke="#000" stroke-width="0.2">39.970</text>
<rect x="1688" y="463" width="2" height="1" fill="#000"/>
<text x="1692.8" y="467" font-size="9.5" fill="#000" text-anchor="start" font-weight="normal" font-family="Liberation Sans" textLength="28" lengthAdjust="spacingAndGlyphs" stroke="#000" stroke-width="0.2">39.630</text>
<rect x="1688" y="496" width="2" height="1" fill="#000"/>
<text x="1692.8" y="500" font-size="9.5" fill="#000" text-anchor="start" font-weight="normal" font-family="Liberation Sans" textLength="28" lengthAdjust="spacingAndGlyphs" stroke="#000" stroke-width="0.2">39.300</text>
<rect x="1688" y="529" width="2" height="1" fill="#000"/>
<text x="1692.8" y="533" font-size="9.5" fill="#000" text-anchor="start" font-weight="normal" font-family="Liberation Sans" textLength="28" lengthAdjust="spacingAndGlyphs" stroke="#000" stroke-width="0.2">38.960</text>
<rect x="1688" y="562" width="2" height="1" fill="#000"/>
<text x="1692.8" y="566" font-size="9.5" fill="#000" text-anchor="start" font-weight="normal" font-family="Liberation Sans" textLength="28" lengthAdjust="spacingAndGlyphs" stroke="#000" stroke-width="0.2">38.630</text>
<rect x="1689" y="77" width="33" height="11" fill="#FF0000"/>
<text x="1692.8" y="86" font-size="9.5" fill="#fff" text-anchor="start" font-weight="normal" font-family="Liberation Sans" textLength="28" lengthAdjust="spacingAndGlyphs" stroke="#fff" stroke-width="0.2">43.500</text>
<rect x="1689" y="273" width="33" height="11" fill="#32CD32"/>
<text x="1692.8" y="282" font-size="9.5" fill="#fff" text-anchor="start" font-weight="normal" font-family="Liberation Sans" textLength="28" lengthAdjust="spacingAndGlyphs" stroke="#fff" stroke-width="0.2">41.500</text>
<rect x="1689" y="311" width="33" height="11" fill="#000"/>
<text x="1692.8" y="320" font-size="9.5" fill="#fff" text-anchor="start" font-weight="normal" font-family="Liberation Sans" textLength="28" lengthAdjust="spacingAndGlyphs" stroke="#fff" stroke-width="0.2">41.130</text>
<rect x="1689" y="470" width="33" height="11" fill="#4169E1"/>
<text x="1692.8" y="479" font-size="9.5" fill="#fff" text-anchor="start" font-weight="normal" font-family="Liberation Sans" textLength="28" lengthAdjust="spacingAndGlyphs" stroke="#fff" stroke-width="0.2">39.500</text>
<path d="M5 38 L12.5 38 L8.75 42 Z" fill="#000" shape-rendering="auto"/>
<text x="16.5" y="43" font-size="10.2" fill="#000" text-anchor="start" font-weight="normal" font-family="Liberation Sans" textLength="171.5" lengthAdjust="spacingAndGlyphs" stroke="#000" stroke-width="0.2">USOil-,H4&#160;&#160;&#160;40.970 41.150 40.950 41.130</text>
<clipPath id="cmacd"><rect x="2" y="568" width="1685" height="158"/></clipPath>
<g clip-path="url(#cmacd)">
<rect x="2" y="641" width="1" height="3" fill="#C0C0C0"/>
<rect x="10" y="639" width="1" height="5" fill="#C0C0C0"/>
<rect x="18" y="638" width="1" height="6" fill="#C0C0C0"/>
<rect x="26" y="637" width="1" height="7" fill="#C0C0C0"/>
<rect x="34" y="634" width="1" height="10" fill="#C0C0C0"/>
<rect x="42" y="630" width="1" height="14" fill="#C0C0C0"/>
<rect x="50" y="617" width="1" height="27" fill="#C0C0C0"/>
<rect x="58" y="608" width="1" height="36" fill="#C0C0C0"/>
<rect x="66" y="603" width="1" height="41" fill="#C0C0C0"/>
<rect x="74" y="603" width="1" height="41" fill="#C0C0C0"/>
<rect x="82" y="601" width="1" height="43" fill="#C0C0C0"/>
<rect x="90" y="602" width="1" height="42" fill="#C0C0C0"/>
<rect x="98" y="607" width="1" height="37" fill="#C0C0C0"/>
<rect x="106" y="609" width="1" height="35" fill="#C0C0C0"/>
<rect x="114" y="606" width="1" height="38" fill="#C0C0C0"/>
<rect x="122" y="607" width="1" height="37" fill="#C0C0C0"/>
<rect x="130" y="605" width="1" height="39" fill="#C0C0C0"/>
<rect x="138" y="601" width="1" height="43" fill="#C0C0C0"/>
<rect x="146" y="602" width="1" height="42" fill="#C0C0C0"/>
<rect x="154" y="602" width="1" height="42" fill="#C0C0C0"/>
<rect x="162" y="610" width="1" height="34" fill="#C0C0C0"/>
<rect x="170" y="619" width="1" height="25" fill="#C0C0C0"/>
<rect x="178" y="625" width="1" height="19" fill="#C0C0C0"/>
<rect x="186" y="631" width="1" height="13" fill="#C0C0C0"/>
<rect x="194" y="635" width="1" height="9" fill="#C0C0C0"/>
<rect x="202" y="643" width="1" height="1" fill="#C0C0C0"/>
<rect x="210" y="643" width="1" height="1" fill="#C0C0C0"/>
<rect x="218" y="644" width="1" height="1" fill="#C0C0C0"/>
<rect x="226" y="644" width="1" height="2" fill="#C0C0C0"/>
<rect x="234" y="644" width="1" height="2" fill="#C0C0C0"/>
<rect x="242" y="644" width="1" height="3" fill="#C0C0C0"/>
<rect x="250" y="643" width="1" height="1" fill="#C0C0C0"/>
<rect x="258" y="644" width="1" height="6" fill="#C0C0C0"/>
<rect x="266" y="644" width="1" height="1" fill="#C0C0C0"/>
<rect x="274" y="640" width="1" height="4" fill="#C0C0C0"/>
<rect x="282" y="638" width="1" height="6" fill="#C0C0C0"/>
<rect x="290" y="637" width="1" height="7" fill="#C0C0C0"/>
<rect x="298" y="637" width="1" height="7" fill="#C0C0C0"/>
<rect x="306" y="640" width="1" height="4" fill="#C0C0C0"/>
<rect x="314" y="644" width="1" height="1" fill="#C0C0C0"/>
<rect x="322" y="644" width="1" height="2" fill="#C0C0C0"/>
<rect x="330" y="644" width="1" height="5" fill="#C0C0C0"/>
<rect x="338" y="644" width="1" height="4" fill="#C0C0C0"/>
<rect x="346" y="644" width="1" height="1" fill="#C0C0C0"/>
<rect x="354" y="644" width="1" height="1" fill="#C0C0C0"/>
<rect x="362" y="644" width="1" height="1" fill="#C0C0C0"/>
<rect x="370" y="644" width="1" height="1" fill="#C0C0C0"/>
<rect x="378" y="644" width="1" height="1" fill="#C0C0C0"/>
<rect x="386" y="644" width="1" height="5" fill="#C0C0C0"/>
<rect x="394" y="644" width="1" height="12" fill="#C0C0C0"/>
<rect x="402" y="644" width="1" height="23" fill="#C0C0C0"/>
<rect x="410" y="644" width="1" height="30" fill="#C0C0C0"/>
<rect x="418" y="644" width="1" height="33" fill="#C0C0C0"/>
<rect x="426" y="644" width="1" height="37" fill="#C0C0C0"/>
<rect x="434" y="644" width="1" height="38" fill="#C0C0C0"/>
<rect x="442" y="644" width="1" height="39" fill="#C0C0C0"/>
<rect x="450" y="644" width="1" height="43" fill="#C0C0C0"/>
<rect x="458" y="644" width="1" height="40" fill="#C0C0C0"/>
<rect x="466" y="644" width="1" height="37" fill="#C0C0C0"/>
<rect x="474" y="644" width="1" height="37" fill="#C0C0C0"/>
<rect x="482" y="644" width="1" height="39" fill="#C0C0C0"/>
<rect x="490" y="644" width="1" height="42" fill="#C0C0C0"/>
<rect x="498" y="644" width="1" height="41" fill="#C0C0C0"/>
<rect x="506" y="644" width="1" height="29" fill="#C0C0C0"/>
<rect x="514" y="644" width="1" height="22" fill="#C0C0C0"/>
<rect x="522" y="644" width="1" height="18" fill="#C0C0C0"/>
<rect x="530" y="644" width="1" height="14" fill="#C0C0C0"/>
<rect x="538" y="644" width="1" height="10" fill="#C0C0C0"/>
<rect x="546" y="644" width="1" height="11" fill="#C0C0C0"/>
<rect x="554" y="643" width="1" height="1" fill="#C0C0C0"/>
<rect x="562" y="633" width="1" height="11" fill="#C0C0C0"/>
<rect x="570" y="626" width="1" height="18" fill="#C0C0C0"/>
<rect x="578" y="619" width="1" height="25" fill="#C0C0C0"/>
<rect x="586" y="611" width="1" height="33" fill="#C0C0C0"/>
<rect x="594" y="589" width="1" height="55" fill="#C0C0C0"/>
<rect x="602" y="577" width="1" height="67" fill="#C0C0C0"/>
<rect x="610" y="578" width="1" height="66" fill="#C0C0C0"/>
<rect x="618" y="578" width="1" height="66" fill="#C0C0C0"/>
<rect x="626" y="580" width="1" height="64" fill="#C0C0C0"/>
<rect x="634" y="583" width="1" height="61" fill="#C0C0C0"/>
<rect x="642" y="587" width="1" height="57" fill="#C0C0C0"/>
<rect x="650" y="587" width="1" height="57" fill="#C0C0C0"/>
<rect x="658" y="591" width="1" height="53" fill="#C0C0C0"/>
<rect x="666" y="594" width="1" height="50" fill="#C0C0C0"/>
<rect x="674" y="600" width="1" height="44" fill="#C0C0C0"/>
<rect x="682" y="603" width="1" height="41" fill="#C0C0C0"/>
<rect x="690" y="612" width="1" height="32" fill="#C0C0C0"/>
<rect x="698" y="621" width="1" height="23" fill="#C0C0C0"/>
<rect x="706" y="626" width="1" height="18" fill="#C0C0C0"/>
<rect x="714" y="629" width="1" height="15" fill="#C0C0C0"/>
<rect x="722" y="632" width="1" height="12" fill="#C0C0C0"/>
<rect x="730" y="632" width="1" height="12" fill="#C0C0C0"/>
<rect x="738" y="631" width="1" height="13" fill="#C0C0C0"/>
<rect x="746" y="632" width="1" height="12" fill="#C0C0C0"/>
<rect x="754" y="629" width="1" height="15" fill="#C0C0C0"/>
<rect x="762" y="627" width="1" height="17" fill="#C0C0C0"/>
<rect x="770" y="626" width="1" height="18" fill="#C0C0C0"/>
<rect x="778" y="623" width="1" height="21" fill="#C0C0C0"/>
<rect x="786" y="620" width="1" height="24" fill="#C0C0C0"/>
<rect x="794" y="615" width="1" height="29" fill="#C0C0C0"/>
<rect x="802" y="615" width="1" height="29" fill="#C0C0C0"/>
<rect x="810" y="624" width="1" height="20" fill="#C0C0C0"/>
<rect x="818" y="630" width="1" height="14" fill="#C0C0C0"/>
<rect x="826" y="633" width="1" height="11" fill="#C0C0C0"/>
<rect x="834" y="633" width="1" height="11" fill="#C0C0C0"/>
<rect x="842" y="630" width="1" height="14" fill="#C0C0C0"/>
<rect x="850" y="628" width="1" height="16" fill="#C0C0C0"/>
<rect x="858" y="623" width="1" height="21" fill="#C0C0C0"/>
<rect x="866" y="620" width="1" height="24" fill="#C0C0C0"/>
<rect x="874" y="617" width="1" height="27" fill="#C0C0C0"/>
<rect x="882" y="616" width="1" height="28" fill="#C0C0C0"/>
<rect x="890" y="614" width="1" height="30" fill="#C0C0C0"/>
<rect x="898" y="617" width="1" height="27" fill="#C0C0C0"/>
<rect x="906" y="619" width="1" height="25" fill="#C0C0C0"/>
<rect x="914" y="620" width="1" height="24" fill="#C0C0C0"/>
<rect x="922" y="622" width="1" height="22" fill="#C0C0C0"/>
<rect x="930" y="628" width="1" height="16" fill="#C0C0C0"/>
<rect x="938" y="629" width="1" height="15" fill="#C0C0C0"/>
<rect x="946" y="633" width="1" height="11" fill="#C0C0C0"/>
<rect x="954" y="634" width="1" height="10" fill="#C0C0C0"/>
<rect x="962" y="635" width="1" height="9" fill="#C0C0C0"/>
<rect x="970" y="636" width="1" height="8" fill="#C0C0C0"/>
<rect x="978" y="635" width="1" height="9" fill="#C0C0C0"/>
<rect x="986" y="636" width="1" height="8" fill="#C0C0C0"/>
<rect x="994" y="640" width="1" height="4" fill="#C0C0C0"/>
<rect x="1002" y="639" width="1" height="5" fill="#C0C0C0"/>
<rect x="1010" y="633" width="1" height="11" fill="#C0C0C0"/>
<rect x="1018" y="629" width="1" height="15" fill="#C0C0C0"/>
<rect x="1026" y="627" width="1" height="17" fill="#C0C0C0"/>
<rect x="1034" y="623" width="1" height="21" fill="#C0C0C0"/>
<rect x="1042" y="623" width="1" height="21" fill="#C0C0C0"/>
<rect x="1050" y="623" width="1" height="21" fill="#C0C0C0"/>
<rect x="1058" y="621" width="1" height="23" fill="#C0C0C0"/>
<rect x="1066" y="620" width="1" height="24" fill="#C0C0C0"/>
<rect x="1074" y="619" width="1" height="25" fill="#C0C0C0"/>
<rect x="1082" y="619" width="1" height="25" fill="#C0C0C0"/>
<rect x="1090" y="620" width="1" height="24" fill="#C0C0C0"/>
<rect x="1098" y="617" width="1" height="27" fill="#C0C0C0"/>
<rect x="1106" y="617" width="1" height="27" fill="#C0C0C0"/>
<rect x="1114" y="619" width="1" height="25" fill="#C0C0C0"/>
<rect x="1122" y="621" width="1" height="23" fill="#C0C0C0"/>
<rect x="1130" y="623" width="1" height="21" fill="#C0C0C0"/>
<rect x="1138" y="626" width="1" height="18" fill="#C0C0C0"/>
<rect x="1146" y="628" width="1" height="16" fill="#C0C0C0"/>
<rect x="1154" y="629" width="1" height="15" fill="#C0C0C0"/>
<rect x="1162" y="628" width="1" height="16" fill="#C0C0C0"/>
<rect x="1170" y="628" width="1" height="16" fill="#C0C0C0"/>
<rect x="1178" y="631" width="1" height="13" fill="#C0C0C0"/>
<rect x="1186" y="638" width="1" height="6" fill="#C0C0C0"/>
<rect x="1194" y="644" width="1" height="8" fill="#C0C0C0"/>
<rect x="1202" y="644" width="1" height="10" fill="#C0C0C0"/>
<rect x="1210" y="644" width="1" height="11" fill="#C0C0C0"/>
<rect x="1218" y="644" width="1" height="11" fill="#C0C0C0"/>
<rect x="1226" y="644" width="1" height="11" fill="#C0C0C0"/>
<rect x="1234" y="644" width="1" height="8" fill="#C0C0C0"/>
<rect x="1242" y="644" width="1" height="4" fill="#C0C0C0"/>
<rect x="1250" y="644" width="1" height="3" fill="#C0C0C0"/>
<rect x="1258" y="644" width="1" height="4" fill="#C0C0C0"/>
<rect x="1266" y="644" width="1" height="4" fill="#C0C0C0"/>
<rect x="1274" y="644" width="1" height="3" fill="#C0C0C0"/>
<rect x="1282" y="644" width="1" height="3" fill="#C0C0C0"/>
<rect x="1290" y="643" width="1" height="1" fill="#C0C0C0"/>
<rect x="1298" y="636" width="1" height="8" fill="#C0C0C0"/>
<rect x="1306" y="629" width="1" height="15" fill="#C0C0C0"/>
<rect x="1314" y="623" width="1" height="21" fill="#C0C0C0"/>
<rect x="1322" y="619" width="1" height="25" fill="#C0C0C0"/>
<rect x="1330" y="616" width="1" height="28" fill="#C0C0C0"/>
<rect x="1338" y="617" width="1" height="27" fill="#C0C0C0"/>
<rect x="1346" y="615" width="1" height="29" fill="#C0C0C0"/>
<rect x="1354" y="614" width="1" height="30" fill="#C0C0C0"/>
<rect x="1362" y="613" width="1" height="31" fill="#C0C0C0"/>
<rect x="1370" y="613" width="1" height="31" fill="#C0C0C0"/>
<rect x="1378" y="613" width="1" height="31" fill="#C0C0C0"/>
<rect x="1386" y="617" width="1" height="27" fill="#C0C0C0"/>
<rect x="1394" y="619" width="1" height="25" fill="#C0C0C0"/>
<rect x="1402" y="623" width="1" height="21" fill="#C0C0C0"/>
<rect x="1410" y="627" width="1" height="17" fill="#C0C0C0"/>
<rect x="1418" y="630" width="1" height="14" fill="#C0C0C0"/>
<rect x="1426" y="634" width="1" height="10" fill="#C0C0C0"/>
<rect x="1434" y="635" width="1" height="9" fill="#C0C0C0"/>
<rect x="1442" y="637" width="1" height="7" fill="#C0C0C0"/>
<rect x="1450" y="638" width="1" height="6" fill="#C0C0C0"/>
<rect x="1458" y="640" width="1" height="4" fill="#C0C0C0"/>
<rect x="1466" y="640" width="1" height="4" fill="#C0C0C0"/>
<rect x="1474" y="639" width="1" height="5" fill="#C0C0C0"/>
<rect x="1482" y="636" width="1" height="8" fill="#C0C0C0"/>
<rect x="1490" y="633" width="1" height="11" fill="#C0C0C0"/>
<rect x="1498" y="634" width="1" height="10" fill="#C0C0C0"/>
<rect x="1506" y="639" width="1" height="5" fill="#C0C0C0"/>
<rect x="1514" y="641" width="1" height="3" fill="#C0C0C0"/>
<rect x="1522" y="642" width="1" height="2" fill="#C0C0C0"/>
<rect x="1530" y="641" width="1" height="3" fill="#C0C0C0"/>
<rect x="1538" y="641" width="1" height="3" fill="#C0C0C0"/>
<rect x="1546" y="640" width="1" height="4" fill="#C0C0C0"/>
<rect x="1554" y="642" width="1" height="2" fill="#C0C0C0"/>
<rect x="1562" y="642" width="1" height="2" fill="#C0C0C0"/>
<rect x="1570" y="642" width="1" height="2" fill="#C0C0C0"/>
<rect x="1578" y="641" width="1" height="3" fill="#C0C0C0"/>
<rect x="1586" y="642" width="1" height="2" fill="#C0C0C0"/>
<rect x="1594" y="644" width="1" height="14" fill="#C0C0C0"/>
<rect x="1602" y="644" width="1" height="27" fill="#C0C0C0"/>
<rect x="1610" y="644" width="1" height="34" fill="#C0C0C0"/>
<rect x="1618" y="644" width="1" height="42" fill="#C0C0C0"/>
<rect x="1626" y="644" width="1" height="51" fill="#C0C0C0"/>
<rect x="1634" y="644" width="1" height="64" fill="#C0C0C0"/>
<rect x="1642" y="644" width="1" height="70" fill="#C0C0C0"/>
<rect x="1650" y="644" width="1" height="71" fill="#C0C0C0"/>
<rect x="1658" y="644" width="1" height="74" fill="#C0C0C0"/>
<rect x="1666" y="644" width="1" height="73" fill="#C0C0C0"/>
<polyline points="2.5,627.22 10.5,628.77 18.5,630.17 26.5,631.41 34.5,632.40 42.5,632.89 50.5,631.97 58.5,630.00 66.5,627.53 74.5,623.28 82.5,619.06 90.5,615.07 98.5,611.80 106.5,608.93 114.5,606.33 122.5,605.19 130.5,604.85 138.5,604.62 146.5,604.60 154.5,604.61 162.5,605.47 170.5,606.72 178.5,608.54 186.5,611.28 194.5,614.40 202.5,618.63 210.5,623.34 218.5,627.95 226.5,632.88 234.5,636.92 242.5,640.13 250.5,642.14 258.5,644.27 266.5,645.38 274.5,645.09 282.5,644.46 290.5,643.68 298.5,642.68 306.5,641.99 314.5,641.68 322.5,642.05 330.5,641.88 338.5,642.15 346.5,642.71 354.5,643.47 362.5,644.35 370.5,645.19 378.5,645.73 386.5,646.24 394.5,647.29 402.5,649.35 410.5,652.27 418.5,655.86 426.5,659.92 434.5,664.00 442.5,668.22 450.5,672.95 458.5,676.83 466.5,679.65 474.5,681.20 482.5,682.20 490.5,683.17 498.5,683.53 506.5,682.56 514.5,680.69 522.5,677.87 530.5,674.96 538.5,671.96 546.5,669.09 554.5,664.64 562.5,658.77 570.5,652.26 578.5,646.32 586.5,640.17 594.5,632.04 602.5,623.07 610.5,614.62 618.5,606.05 626.5,599.06 634.5,593.52 642.5,589.25 650.5,585.64 658.5,583.44 666.5,584.03 674.5,586.54 682.5,589.33 690.5,593.09 698.5,597.65 706.5,602.35 714.5,607.02 722.5,611.98 730.5,616.53 738.5,620.67 746.5,624.22 754.5,627.06 762.5,628.75 770.5,629.37 778.5,629.11 786.5,628.05 794.5,626.20 802.5,624.30 810.5,623.46 818.5,623.24 826.5,623.67 834.5,624.26 842.5,624.63 850.5,625.16 858.5,625.53 866.5,626.12 874.5,626.40 882.5,625.53 890.5,623.74 898.5,621.94 906.5,620.44 914.5,619.29 922.5,618.64 930.5,619.12 938.5,620.14 946.5,621.84 954.5,623.89 962.5,626.30 970.5,628.41 978.5,630.19 986.5,632.04 994.5,634.03 1002.5,635.33 1010.5,635.73 1018.5,635.34 1026.5,634.53 1034.5,633.18 1042.5,631.81 1050.5,630.47 1058.5,628.83 1066.5,626.56 1074.5,624.29 1082.5,622.74 1090.5,621.76 1098.5,620.66 1106.5,619.95 1114.5,619.43 1122.5,619.24 1130.5,619.45 1138.5,620.15 1146.5,621.13 1154.5,622.21 1162.5,623.12 1170.5,624.36 1178.5,625.90 1186.5,628.09 1194.5,631.47 1202.5,634.85 1210.5,638.09 1218.5,641.09 1226.5,644.04 1234.5,646.69 1242.5,648.93 1250.5,650.78 1258.5,651.86 1266.5,651.40 1274.5,650.60 1282.5,649.67 1290.5,648.39 1298.5,646.21 1306.5,643.58 1314.5,640.75 1322.5,637.62 1330.5,634.10 1338.5,630.72 1346.5,627.20 1354.5,623.52 1362.5,620.14 1370.5,617.59 1378.5,615.81 1386.5,615.11 1394.5,615.10 1402.5,615.85 1410.5,616.97 1418.5,618.64 1426.5,620.91 1434.5,623.42 1442.5,626.09 1450.5,628.94 1458.5,631.50 1466.5,633.82 1474.5,635.58 1482.5,636.57 1490.5,636.93 1498.5,636.95 1506.5,637.34 1514.5,637.81 1522.5,638.22 1530.5,638.34 1538.5,638.43 1546.5,638.56 1554.5,639.25 1562.5,640.26 1570.5,641.06 1578.5,641.36 1586.5,641.48 1594.5,643.24 1602.5,646.56 1610.5,650.73 1618.5,655.78 1626.5,661.60 1634.5,668.92 1642.5,677.01 1650.5,685.14 1658.5,693.52 1666.5,700.11" fill="none" stroke="#FF0000" stroke-width="1" stroke-dasharray="3 3"/>
</g>
<text x="6" y="580.5" font-size="10.2" fill="#000" text-anchor="start" font-weight="normal" font-family="Liberation Sans" textLength="134.5" lengthAdjust="spacingAndGlyphs" stroke="#000" stroke-width="0.2">MACD(12,26,9) -0.5370 -0.4131</text>
<text x="1691" y="579" font-size="10" fill="#000" text-anchor="start" font-weight="normal" font-family="Liberation Sans" textLength="28" lengthAdjust="spacingAndGlyphs" stroke="#000" stroke-width="0.2">0.5367</text>
<text x="1691" y="648" font-size="10" fill="#000" text-anchor="start" font-weight="normal" font-family="Liberation Sans" textLength="18.5" lengthAdjust="spacingAndGlyphs" stroke="#000" stroke-width="0.2">0.00</text>
<text x="1691" y="723" font-size="10" fill="#000" text-anchor="start" font-weight="normal" font-family="Liberation Sans" textLength="31" lengthAdjust="spacingAndGlyphs" stroke="#000" stroke-width="0.2">-0.5924</text>
<clipPath id="crsi"><rect x="2" y="729" width="1685" height="145"/></clipPath>
<g clip-path="url(#crsi)">
<line x1="3" y1="773.5" x2="1687" y2="773.5" stroke="#C0C0C0" stroke-width="1" stroke-dasharray="3 3"/>
<line x1="3" y1="830.5" x2="1687" y2="830.5" stroke="#C0C0C0" stroke-width="1" stroke-dasharray="3 3"/>
<polyline points="2.5,807.90 10.5,797.47 18.5,796.86 26.5,795.76 34.5,792.12 42.5,784.76 50.5,768.97 58.5,768.97 66.5,778.24 74.5,785.90 82.5,783.60 90.5,787.11 98.5,799.00 106.5,792.02 114.5,785.37 122.5,790.34 130.5,784.46 138.5,781.27 146.5,790.45 154.5,786.50 162.5,804.71 170.5,808.24 178.5,806.60 186.5,808.29 194.5,806.22 202.5,814.32 210.5,803.35 218.5,802.44 226.5,806.27 234.5,802.80 242.5,805.43 250.5,794.25 258.5,813.45 266.5,796.09 274.5,794.60 282.5,797.92 290.5,798.76 298.5,800.42 306.5,804.87 314.5,808.91 322.5,805.23 330.5,807.00 338.5,801.26 346.5,797.91 354.5,801.78 362.5,802.47 370.5,801.98 378.5,802.37 386.5,811.99 394.5,817.92 402.5,827.54 410.5,821.84 418.5,818.14 426.5,820.78 434.5,814.97 442.5,817.10 450.5,823.69 458.5,808.81 466.5,808.47 474.5,813.79 482.5,816.88 490.5,820.56 498.5,812.14 506.5,793.34 514.5,798.24 522.5,800.83 530.5,800.23 538.5,798.77 546.5,807.37 554.5,786.48 562.5,786.69 570.5,787.13 578.5,785.75 586.5,780.68 594.5,766.25 602.5,776.56 610.5,790.60 618.5,789.37 626.5,790.52 634.5,792.79 642.5,793.91 650.5,788.47 658.5,794.70 666.5,793.79 674.5,798.95 682.5,796.12 690.5,805.60 698.5,807.68 706.5,803.55 714.5,803.45 722.5,801.52 730.5,798.64 738.5,796.77 746.5,799.10 754.5,792.17 762.5,793.88 770.5,793.88 778.5,788.85 786.5,786.65 794.5,782.15 802.5,791.10 810.5,809.81 818.5,807.50 826.5,803.24 834.5,798.17 842.5,792.92 850.5,793.52 858.5,787.21 866.5,788.55 874.5,786.81 882.5,788.60 890.5,786.18 898.5,797.48 906.5,797.48 914.5,793.25 922.5,799.00 930.5,806.47 938.5,800.22 946.5,803.61 954.5,801.80 962.5,800.66 970.5,798.52 978.5,796.78 986.5,800.47 994.5,809.71 1002.5,798.22 1010.5,785.75 1018.5,787.85 1026.5,790.94 1034.5,785.88 1042.5,794.04 1050.5,793.25 1058.5,788.84 1066.5,787.80 1074.5,788.34 1082.5,790.44 1090.5,792.86 1098.5,782.26 1106.5,788.87 1114.5,794.86 1122.5,798.36 1130.5,796.70 1138.5,800.38 1146.5,797.89 1154.5,796.87 1162.5,791.99 1170.5,791.99 1178.5,801.75 1186.5,818.20 1194.5,831.82 1202.5,808.19 1210.5,808.01 1218.5,804.63 1226.5,807.27 1234.5,798.98 1242.5,796.01 1250.5,800.95 1258.5,804.88 1266.5,802.48 1274.5,800.77 1282.5,803.52 1290.5,794.16 1298.5,784.90 1306.5,782.38 1314.5,782.04 1322.5,783.09 1330.5,783.09 1338.5,792.52 1346.5,785.09 1354.5,786.15 1362.5,785.09 1370.5,787.10 1378.5,785.47 1386.5,799.55 1394.5,795.97 1402.5,802.37 1410.5,804.59 1418.5,802.03 1426.5,808.26 1434.5,800.57 1442.5,802.39 1450.5,802.65 1458.5,803.87 1466.5,800.14 1474.5,795.61 1482.5,789.44 1490.5,786.15 1498.5,800.48 1506.5,810.61 1514.5,806.53 1522.5,803.22 1530.5,797.08 1538.5,800.07 1546.5,797.81 1554.5,807.52 1562.5,800.73 1570.5,798.78 1578.5,800.27 1586.5,802.86 1594.5,834.69 1602.5,835.68 1610.5,828.31 1618.5,830.84 1626.5,835.95 1634.5,842.68 1642.5,832.32 1650.5,822.41 1658.5,826.91 1666.5,821.94" fill="none" stroke="#1E90FF" stroke-width="1" />
</g>
<text x="5.5" y="741.5" font-size="10.2" fill="#000" text-anchor="start" font-weight="normal" font-family="Liberation Sans" textLength="69.5" lengthAdjust="spacingAndGlyphs" stroke="#000" stroke-width="0.2">RSI(14) 35.6842</text>
<text x="1691" y="739" font-size="10" fill="#000" text-anchor="start" font-weight="normal" font-family="Liberation Sans" textLength="15.2" lengthAdjust="spacingAndGlyphs" stroke="#000" stroke-width="0.2">100</text>
<text x="1691" y="777" font-size="10" fill="#000" text-anchor="start" font-weight="normal" font-family="Liberation Sans" textLength="10" lengthAdjust="spacingAndGlyphs" stroke="#000" stroke-width="0.2">70</text>
<text x="1691" y="834" font-size="10" fill="#000" text-anchor="start" font-weight="normal" font-family="Liberation Sans" textLength="10" lengthAdjust="spacingAndGlyphs" stroke="#000" stroke-width="0.2">30</text>
<text x="1691" y="872" font-size="10" fill="#000" text-anchor="start" font-weight="normal" font-family="Liberation Sans" textLength="5" lengthAdjust="spacingAndGlyphs" stroke="#000" stroke-width="0.2">0</text>
<rect x="2" y="875" width="1" height="3" fill="#000"/>
<text x="1" y="887" font-size="9.6" fill="#000" text-anchor="start" font-weight="normal" font-family="Liberation Sans" textLength="47.83" lengthAdjust="spacingAndGlyphs" stroke="#000" stroke-width="0.2">20 Jul 2020</text>
<rect x="66" y="875" width="1" height="3" fill="#000"/>
<text x="65" y="887" font-size="9.6" fill="#000" text-anchor="start" font-weight="normal" font-family="Liberation Sans" textLength="50.4" lengthAdjust="spacingAndGlyphs" stroke="#000" stroke-width="0.2">21 Jul 16:00</text>
<rect x="130" y="875" width="1" height="3" fill="#000"/>
<text x="129" y="887" font-size="9.6" fill="#000" text-anchor="start" font-weight="normal" font-family="Liberation Sans" textLength="50.4" lengthAdjust="spacingAndGlyphs" stroke="#000" stroke-width="0.2">23 Jul 00:00</text>
<rect x="194" y="875" width="1" height="3" fill="#000"/>
<text x="193" y="887" font-size="9.6" fill="#000" text-anchor="start" font-weight="normal" font-family="Liberation Sans" textLength="50.4" lengthAdjust="spacingAndGlyphs" stroke="#000" stroke-width="0.2">24 Jul 08:00</text>
<rect x="258" y="875" width="1" height="3" fill="#000"/>
<text x="257" y="887" font-size="9.6" fill="#000" text-anchor="start" font-weight="normal" font-family="Liberation Sans" textLength="50.4" lengthAdjust="spacingAndGlyphs" stroke="#000" stroke-width="0.2">27 Jul 12:00</text>
<rect x="322" y="875" width="1" height="3" fill="#000"/>
<text x="321" y="887" font-size="9.6" fill="#000" text-anchor="start" font-weight="normal" font-family="Liberation Sans" textLength="50.4" lengthAdjust="spacingAndGlyphs" stroke="#000" stroke-width="0.2">28 Jul 20:00</text>
<rect x="386" y="875" width="1" height="3" fill="#000"/>
<text x="385" y="887" font-size="9.6" fill="#000" text-anchor="start" font-weight="normal" font-family="Liberation Sans" textLength="50.4" lengthAdjust="spacingAndGlyphs" stroke="#000" stroke-width="0.2">30 Jul 04:00</text>
<rect x="450" y="875" width="1" height="3" fill="#000"/>
<text x="449" y="887" font-size="9.6" fill="#000" text-anchor="start" font-weight="normal" font-family="Liberation Sans" textLength="50.4" lengthAdjust="spacingAndGlyphs" stroke="#000" stroke-width="0.2">31 Jul 12:00</text>
<rect x="514" y="875" width="1" height="3" fill="#000"/>
<text x="513" y="887" font-size="9.6" fill="#000" text-anchor="start" font-weight="normal" font-family="Liberation Sans" textLength="49.38" lengthAdjust="spacingAndGlyphs" stroke="#000" stroke-width="0.2">3 Aug 16:00</text>
<rect x="578" y="875" width="1" height="3" fill="#000"/>
<text x="577" y="887" font-size="9.6" fill="#000" text-anchor="start" font-weight="normal" font-family="Liberation Sans" textLength="49.38" lengthAdjust="spacingAndGlyphs" stroke="#000" stroke-width="0.2">5 Aug 00:00</text>
<rect x="642" y="875" width="1" height="3" fill="#000"/>
<text x="641" y="887" font-size="9.6" fill="#000" text-anchor="start" font-weight="normal" font-family="Liberation Sans" textLength="49.38" lengthAdjust="spacingAndGlyphs" stroke="#000" stroke-width="0.2">6 Aug 08:00</text>
<rect x="706" y="875" width="1" height="3" fill="#000"/>
<text x="705" y="887" font-size="9.6" fill="#000" text-anchor="start" font-weight="normal" font-family="Liberation Sans" textLength="49.38" lengthAdjust="spacingAndGlyphs" stroke="#000" stroke-width="0.2">7 Aug 16:00</text>
<rect x="770" y="875" width="1" height="3" fill="#000"/>
<text x="769" y="887" font-size="9.6" fill="#000" text-anchor="start" font-weight="normal" font-family="Liberation Sans" textLength="54.52" lengthAdjust="spacingAndGlyphs" stroke="#000" stroke-width="0.2">10 Aug 20:00</text>
<rect x="834" y="875" width="1" height="3" fill="#000"/>
<text x="833" y="887" font-size="9.6" fill="#000" text-anchor="start" font-weight="normal" font-family="Liberation Sans" textLength="54.52" lengthAdjust="spacingAndGlyphs" stroke="#000" stroke-width="0.2">12 Aug 04:00</text>
<rect x="898" y="875" width="1" height="3" fill="#000"/>
<text x="897" y="887" font-size="9.6" fill="#000" text-anchor="start" font-weight="normal" font-family="Liberation Sans" textLength="54.52" lengthAdjust="spacingAndGlyphs" stroke="#000" stroke-width="0.2">13 Aug 12:00</text>
<rect x="962" y="875" width="1" height="3" fill="#000"/>
<text x="961" y="887" font-size="9.6" fill="#000" text-anchor="start" font-weight="normal" font-family="Liberation Sans" textLength="54.52" lengthAdjust="spacingAndGlyphs" stroke="#000" stroke-width="0.2">14 Aug 20:00</text>
<rect x="1026" y="875" width="1" height="3" fill="#000"/>
<text x="1025" y="887" font-size="9.6" fill="#000" text-anchor="start" font-weight="normal" font-family="Liberation Sans" textLength="54.52" lengthAdjust="spacingAndGlyphs" stroke="#000" stroke-width="0.2">18 Aug 00:00</text>
<rect x="1090" y="875" width="1" height="3" fill="#000"/>
<text x="1089" y="887" font-size="9.6" fill="#000" text-anchor="start" font-weight="normal" font-family="Liberation Sans" textLength="54.52" lengthAdjust="spacingAndGlyphs" stroke="#000" stroke-width="0.2">19 Aug 08:00</text>
<rect x="1154" y="875" width="1" height="3" fill="#000"/>
<text x="1153" y="887" font-size="9.6" fill="#000" text-anchor="start" font-weight="normal" font-family="Liberation Sans" textLength="54.52" lengthAdjust="spacingAndGlyphs" stroke="#000" stroke-width="0.2">20 Aug 16:00</text>
<rect x="1218" y="875" width="1" height="3" fill="#000"/>
<text x="1217" y="887" font-size="9.6" fill="#000" text-anchor="start" font-weight="normal" font-family="Liberation Sans" textLength="54.52" lengthAdjust="spacingAndGlyphs" stroke="#000" stroke-width="0.2">23 Aug 23:00</text>
<rect x="1282" y="875" width="1" height="3" fill="#000"/>
<text x="1281" y="887" font-size="9.6" fill="#000" text-anchor="start" font-weight="normal" font-family="Liberation Sans" textLength="54.52" lengthAdjust="spacingAndGlyphs" stroke="#000" stroke-width="0.2">25 Aug 04:00</text>
<rect x="1346" y="875" width="1" height="3" fill="#000"/>
<text x="1345" y="887" font-size="9.6" fill="#000" text-anchor="start" font-weight="normal" font-family="Liberation Sans" textLength="54.52" lengthAdjust="spacingAndGlyphs" stroke="#000" stroke-width="0.2">26 Aug 12:00</text>
<rect x="1410" y="875" width="1" height="3" fill="#000"/>
<text x="1409" y="887" font-size="9.6" fill="#000" text-anchor="start" font-weight="normal" font-family="Liberation Sans" textLength="54.52" lengthAdjust="spacingAndGlyphs" stroke="#000" stroke-width="0.2">27 Aug 20:00</text>
<rect x="1474" y="875" width="1" height="3" fill="#000"/>
<text x="1473" y="887" font-size="9.6" fill="#000" text-anchor="start" font-weight="normal" font-family="Liberation Sans" textLength="54.52" lengthAdjust="spacingAndGlyphs" stroke="#000" stroke-width="0.2">31 Aug 00:00</text>
<rect x="1538" y="875" width="1" height="3" fill="#000"/>
<text x="1537" y="887" font-size="9.6" fill="#000" text-anchor="start" font-weight="normal" font-family="Liberation Sans" textLength="49.89" lengthAdjust="spacingAndGlyphs" stroke="#000" stroke-width="0.2">1 Sep 08:00</text>
<rect x="1602" y="875" width="1" height="3" fill="#000"/>
<text x="1601" y="887" font-size="9.6" fill="#000" text-anchor="start" font-weight="normal" font-family="Liberation Sans" textLength="49.89" lengthAdjust="spacingAndGlyphs" stroke="#000" stroke-width="0.2">2 Sep 16:00</text>
<rect x="1666" y="875" width="1" height="3" fill="#000"/>
<text x="1665" y="887" font-size="9.6" fill="#000" text-anchor="start" font-weight="normal" font-family="Liberation Sans" textLength="49.89" lengthAdjust="spacingAndGlyphs" stroke="#000" stroke-width="0.2">4 Sep 00:00</text>
<path d="M1161.3 381.8 Q1155 387.5 1147.7 390.8" fill="none" stroke="#EC1C24" stroke-width="2.4" stroke-linecap="butt" stroke-linejoin="miter" shape-rendering="auto"/>
<path d="M1156.2 385.9 L1172.2 385.9 Q1174.6 386.4 1173.2 388.6 Q1165 396 1147 398.8" fill="none" stroke="#EC1C24" stroke-width="2.4" stroke-linecap="butt" stroke-linejoin="miter" shape-rendering="auto"/>
<path d="M1155.7 390.3 L1159.9 393.6" fill="none" stroke="#EC1C24" stroke-width="2.4" stroke-linecap="butt" stroke-linejoin="miter" shape-rendering="auto"/>
<path d="M1166.5 395 Q1158 402 1148.6 405.4" fill="none" stroke="#EC1C24" stroke-width="2.4" stroke-linecap="butt" stroke-linejoin="miter" shape-rendering="auto"/>
<path d="M1163.2 398 L1173.8 398 Q1176.2 398.6 1174.8 401 Q1165 410.5 1147.7 412.4" fill="none" stroke="#EC1C24" stroke-width="2.4" stroke-linecap="butt" stroke-linejoin="miter" shape-rendering="auto"/>
<path d="M1159.4 403.5 L1162.7 407.2" fill="none" stroke="#EC1C24" stroke-width="2.4" stroke-linecap="butt" stroke-linejoin="miter" shape-rendering="auto"/>
<path d="M1193.2 381.9 L1195.6 385.8" fill="none" stroke="#EC1C24" stroke-width="2.4" stroke-linecap="butt" stroke-linejoin="miter" shape-rendering="auto"/>
<path d="M1181 391.6 L1181 386.8 L1208 386.8 L1208 391.6" fill="none" stroke="#EC1C24" stroke-width="2.4" stroke-linecap="butt" stroke-linejoin="miter" shape-rendering="auto"/>
<path d="M1190.9 390.5 Q1186 395 1179.6 398.6" fill="none" stroke="#EC1C24" stroke-width="2.4" stroke-linecap="butt" stroke-linejoin="miter" shape-rendering="auto"/>
<path d="M1197.9 390.5 Q1204 394 1209.2 398.6" fill="none" stroke="#EC1C24" stroke-width="2.4" stroke-linecap="butt" stroke-linejoin="miter" shape-rendering="auto"/>
<path d="M1183.4 399.7 L1205.9 399.7" fill="none" stroke="#EC1C24" stroke-width="2.4" stroke-linecap="butt" stroke-linejoin="miter" shape-rendering="auto"/>
<path d="M1194.4 399.7 L1194.4 410.5" fill="none" stroke="#EC1C24" stroke-width="2.4" stroke-linecap="butt" stroke-linejoin="miter" shape-rendering="auto"/>
<path d="M1179.8 410.5 L1209.2 410.5" fill="none" stroke="#EC1C24" stroke-width="2.4" stroke-linecap="butt" stroke-linejoin="miter" shape-rendering="auto"/>
<path d="M1212 387.7 L1225.1 387.7" fill="none" stroke="#EC1C24" stroke-width="2.4" stroke-linecap="butt" stroke-linejoin="miter" shape-rendering="auto"/>
<path d="M1218.8 381.6 L1212.9 398 L1225.1 398" fill="none" stroke="#EC1C24" stroke-width="2.4" stroke-linecap="butt" stroke-linejoin="miter" shape-rendering="auto"/>
<path d="M1220 391 L1220 413" fill="none" stroke="#EC1C24" stroke-width="2.4" stroke-linecap="butt" stroke-linejoin="miter" shape-rendering="auto"/>
<path d="M1211.8 405.8 L1225.6 403.6" fill="none" stroke="#EC1C24" stroke-width="2.4" stroke-linecap="butt" stroke-linejoin="miter" shape-rendering="auto"/>
<path d="M1227.2 387.7 L1242 387.7" fill="none" stroke="#EC1C24" stroke-width="2.4" stroke-linecap="butt" stroke-linejoin="miter" shape-rendering="auto"/>
<path d="M1225.4 394 L1243.2 394" fill="none" stroke="#EC1C24" stroke-width="2.4" stroke-linecap="butt" stroke-linejoin="miter" shape-rendering="auto"/>
<path d="M1233.6 381.6 L1228.8 401 L1241.6 401 L1235.2 408.4" fill="none" stroke="#EC1C24" stroke-width="2.4" stroke-linecap="butt" stroke-linejoin="miter" shape-rendering="auto"/>
<path d="M1227.7 404.9 L1238.5 412.2" fill="none" stroke="#EC1C24" stroke-width="2.4" stroke-linecap="butt" stroke-linejoin="miter" shape-rendering="auto"/>
<path d="M1245.1 389.4 L1255.6 389.4" fill="none" stroke="#EC1C24" stroke-width="2.4" stroke-linecap="butt" stroke-linejoin="miter" shape-rendering="auto"/>
<path d="M1250.5 381.9 L1250.5 409 Q1250.3 411 1245.5 411" fill="none" stroke="#EC1C24" stroke-width="2.4" stroke-linecap="butt" stroke-linejoin="miter" shape-rendering="auto"/>
<path d="M1244.6 400 L1254.7 396.6" fill="none" stroke="#EC1C24" stroke-width="2.4" stroke-linecap="butt" stroke-linejoin="miter" shape-rendering="auto"/>
<path d="M1275.1 383.6 Q1266 384.6 1258.6 385.4" fill="none" stroke="#EC1C24" stroke-width="2.4" stroke-linecap="butt" stroke-linejoin="miter" shape-rendering="auto"/>
<path d="M1258.7 385.2 L1258.7 400 Q1258.5 407 1254.5 412.4" fill="none" stroke="#EC1C24" stroke-width="2.4" stroke-linecap="butt" stroke-linejoin="miter" shape-rendering="auto"/>
<path d="M1258.9 395 L1276.3 395" fill="none" stroke="#EC1C24" stroke-width="2.4" stroke-linecap="butt" stroke-linejoin="miter" shape-rendering="auto"/>
<path d="M1269.2 395 L1269.2 412.8" fill="none" stroke="#EC1C24" stroke-width="2.4" stroke-linecap="butt" stroke-linejoin="miter" shape-rendering="auto"/>
<path d="M1293.2 381.6 L1293.2 392.6" fill="none" stroke="#EC1C24" stroke-width="2.4" stroke-linecap="butt" stroke-linejoin="miter" shape-rendering="auto"/>
<path d="M1293.2 386.3 L1308.9 386.3" fill="none" stroke="#EC1C24" stroke-width="2.4" stroke-linecap="butt" stroke-linejoin="miter" shape-rendering="auto"/>
<path d="M1282.9 403 L1282.9 392.6 L1304.7 392.6 L1304.7 403" fill="none" stroke="#EC1C24" stroke-width="2.4" stroke-linecap="butt" stroke-linejoin="miter" shape-rendering="auto"/>
<path d="M1282.9 401.2 L1304.7 401.2" fill="none" stroke="#EC1C24" stroke-width="2.4" stroke-linecap="butt" stroke-linejoin="miter" shape-rendering="auto"/>
<path d="M1282.9 405.8 L1278.6 412.1" fill="none" stroke="#EC1C24" stroke-width="2.4" stroke-linecap="butt" stroke-linejoin="miter" shape-rendering="auto"/>
<path d="M1288.7 405.6 L1290.6 411.7" fill="none" stroke="#EC1C24" stroke-width="2.4" stroke-linecap="butt" stroke-linejoin="miter" shape-rendering="auto"/>
<path d="M1296.5 405.3 L1298.6 411.4" fill="none" stroke="#EC1C24" stroke-width="2.4" stroke-linecap="butt" stroke-linejoin="miter" shape-rendering="auto"/>
<path d="M1304.2 405.6 L1307.7 412.1" fill="none" stroke="#EC1C24" stroke-width="2.4" stroke-linecap="butt" stroke-linejoin="miter" shape-rendering="auto"/>
<path d="M1323.4 384.2 L1323.4 408.8" fill="none" stroke="#EC1C24" stroke-width="3.0" stroke-linecap="butt" stroke-linejoin="miter" shape-rendering="auto"/>
<path d="M1322.8 384.6 L1311.2 401.8" fill="none" stroke="#EC1C24" stroke-width="3.0" stroke-linecap="butt" stroke-linejoin="miter" shape-rendering="auto"/>
<path d="M1310.2 401.8 L1328.7 401.8" fill="none" stroke="#EC1C24" stroke-width="2.8" stroke-linecap="butt" stroke-linejoin="miter" shape-rendering="auto"/>
<path d="M1310.2 401.6 L1322.4 384.2 L1323.6 387.5 Z" fill="#EC1C24" shape-rendering="auto"/>
<path d="M1339.9 383.6 L1339.9 408.8" fill="none" stroke="#EC1C24" stroke-width="3.6" stroke-linecap="butt" stroke-linejoin="miter" shape-rendering="auto"/>
<path d="M1341 384.8 L1332.7 389.6" fill="none" stroke="#EC1C24" stroke-width="3.2" stroke-linecap="butt" stroke-linejoin="miter" shape-rendering="auto"/>
<circle cx="1352.4" cy="407" r="2.25" fill="#EC1C24" shape-rendering="auto"/>
<path d="M1372.6 385.5 L1362 385.5 L1361.2 396.2 Q1363.8 394.2 1366.6 394.2 Q1373.2 394.4 1373.2 401.4 Q1373 408.6 1366 408.7 Q1361.6 408.7 1359.6 405.8" fill="none" stroke="#EC1C24" stroke-width="2.9" stroke-linecap="butt" stroke-linejoin="miter" shape-rendering="auto"/>
</svg>
</body></html>
